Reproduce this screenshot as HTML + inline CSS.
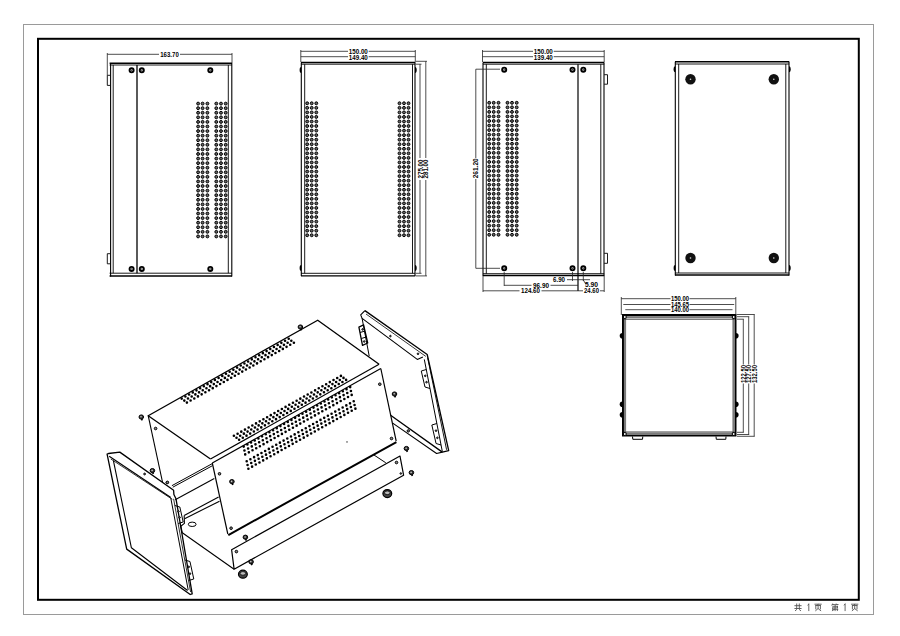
<!DOCTYPE html>
<html><head><meta charset="utf-8"><style>
html,body{margin:0;padding:0;background:#fff;}
svg{display:block;font-family:"Liberation Sans",sans-serif;}
</style></head><body>
<svg width="900" height="636" viewBox="0 0 900 636">
<rect width="900" height="636" fill="#fff"/>
<rect x="23.5" y="24.5" width="850" height="590" fill="none" stroke="#9a9a9a" stroke-width="1"/>
<rect x="38" y="38.8" width="820.8" height="561" fill="none" stroke="#000" stroke-width="2"/>
<line x1="109.60" y1="63.30" x2="232.00" y2="63.30" stroke="#000" stroke-width="1.4" />
<line x1="109.60" y1="65.00" x2="232.00" y2="65.00" stroke="#000" stroke-width="0.9" />
<line x1="109.60" y1="273.20" x2="232.00" y2="273.20" stroke="#000" stroke-width="0.9" />
<line x1="109.60" y1="276.00" x2="232.00" y2="276.00" stroke="#000" stroke-width="1.4" />
<line x1="110.60" y1="63.00" x2="110.60" y2="276.50" stroke="#000" stroke-width="1.1" />
<line x1="113.20" y1="65.00" x2="113.20" y2="273.20" stroke="#000" stroke-width="0.9" />
<line x1="228.30" y1="65.00" x2="228.30" y2="273.20" stroke="#000" stroke-width="0.9" />
<line x1="231.80" y1="63.00" x2="231.80" y2="276.50" stroke="#000" stroke-width="1.1" />
<line x1="137.00" y1="65.00" x2="137.00" y2="273.20" stroke="#000" stroke-width="1.3" />
<circle cx="131.60" cy="70.30" r="2.05" fill="#ddd" stroke="#000" stroke-width="1.9"/>
<circle cx="131.60" cy="70.30" r="0.60" fill="#333" stroke="none" stroke-width="0"/>
<circle cx="141.80" cy="70.30" r="2.05" fill="#ddd" stroke="#000" stroke-width="1.9"/>
<circle cx="141.80" cy="70.30" r="0.60" fill="#333" stroke="none" stroke-width="0"/>
<circle cx="210.30" cy="70.30" r="2.05" fill="#ddd" stroke="#000" stroke-width="1.9"/>
<circle cx="210.30" cy="70.30" r="0.60" fill="#333" stroke="none" stroke-width="0"/>
<circle cx="131.60" cy="268.90" r="2.05" fill="#ddd" stroke="#000" stroke-width="1.9"/>
<circle cx="131.60" cy="268.90" r="0.60" fill="#333" stroke="none" stroke-width="0"/>
<circle cx="141.80" cy="268.90" r="2.05" fill="#ddd" stroke="#000" stroke-width="1.9"/>
<circle cx="141.80" cy="268.90" r="0.60" fill="#333" stroke="none" stroke-width="0"/>
<circle cx="210.30" cy="268.90" r="2.05" fill="#ddd" stroke="#000" stroke-width="1.9"/>
<circle cx="210.30" cy="268.90" r="0.60" fill="#333" stroke="none" stroke-width="0"/>
<polyline points="110.00,75.30 107.30,75.30 107.30,85.40 110.00,85.40" fill="none" stroke="#000" stroke-width="0.9" stroke-linejoin="round"/>
<polyline points="110.00,253.70 107.30,253.70 107.30,263.80 110.00,263.80" fill="none" stroke="#000" stroke-width="0.9" stroke-linejoin="round"/>
<line x1="107.30" y1="54.30" x2="159.00" y2="54.30" stroke="#222" stroke-width="0.8" />
<line x1="180.00" y1="54.30" x2="232.00" y2="54.30" stroke="#222" stroke-width="0.8" />
<line x1="107.30" y1="53.00" x2="107.30" y2="75.30" stroke="#222" stroke-width="0.8" />
<line x1="232.00" y1="53.00" x2="232.00" y2="63.00" stroke="#222" stroke-width="0.8" />
<text x="169.5" y="54.6" font-size="7.4" font-weight="bold" fill="#000" text-anchor="middle" dominant-baseline="central" textLength="18.5" lengthAdjust="spacingAndGlyphs">163.70</text>
<path d="M196.65,103.60a1.45,1.45 0 1,0 2.9,0a1.45,1.45 0 1,0 -2.9,0M201.15,103.60a1.45,1.45 0 1,0 2.9,0a1.45,1.45 0 1,0 -2.9,0M205.95,103.60a1.45,1.45 0 1,0 2.9,0a1.45,1.45 0 1,0 -2.9,0M214.85,103.60a1.45,1.45 0 1,0 2.9,0a1.45,1.45 0 1,0 -2.9,0M219.55,103.60a1.45,1.45 0 1,0 2.9,0a1.45,1.45 0 1,0 -2.9,0M224.25,103.60a1.45,1.45 0 1,0 2.9,0a1.45,1.45 0 1,0 -2.9,0M196.65,108.18a1.45,1.45 0 1,0 2.9,0a1.45,1.45 0 1,0 -2.9,0M201.15,108.18a1.45,1.45 0 1,0 2.9,0a1.45,1.45 0 1,0 -2.9,0M205.95,108.18a1.45,1.45 0 1,0 2.9,0a1.45,1.45 0 1,0 -2.9,0M214.85,108.18a1.45,1.45 0 1,0 2.9,0a1.45,1.45 0 1,0 -2.9,0M219.55,108.18a1.45,1.45 0 1,0 2.9,0a1.45,1.45 0 1,0 -2.9,0M224.25,108.18a1.45,1.45 0 1,0 2.9,0a1.45,1.45 0 1,0 -2.9,0M196.65,112.76a1.45,1.45 0 1,0 2.9,0a1.45,1.45 0 1,0 -2.9,0M201.15,112.76a1.45,1.45 0 1,0 2.9,0a1.45,1.45 0 1,0 -2.9,0M205.95,112.76a1.45,1.45 0 1,0 2.9,0a1.45,1.45 0 1,0 -2.9,0M214.85,112.76a1.45,1.45 0 1,0 2.9,0a1.45,1.45 0 1,0 -2.9,0M219.55,112.76a1.45,1.45 0 1,0 2.9,0a1.45,1.45 0 1,0 -2.9,0M224.25,112.76a1.45,1.45 0 1,0 2.9,0a1.45,1.45 0 1,0 -2.9,0M196.65,117.34a1.45,1.45 0 1,0 2.9,0a1.45,1.45 0 1,0 -2.9,0M201.15,117.34a1.45,1.45 0 1,0 2.9,0a1.45,1.45 0 1,0 -2.9,0M205.95,117.34a1.45,1.45 0 1,0 2.9,0a1.45,1.45 0 1,0 -2.9,0M214.85,117.34a1.45,1.45 0 1,0 2.9,0a1.45,1.45 0 1,0 -2.9,0M219.55,117.34a1.45,1.45 0 1,0 2.9,0a1.45,1.45 0 1,0 -2.9,0M224.25,117.34a1.45,1.45 0 1,0 2.9,0a1.45,1.45 0 1,0 -2.9,0M196.65,121.92a1.45,1.45 0 1,0 2.9,0a1.45,1.45 0 1,0 -2.9,0M201.15,121.92a1.45,1.45 0 1,0 2.9,0a1.45,1.45 0 1,0 -2.9,0M205.95,121.92a1.45,1.45 0 1,0 2.9,0a1.45,1.45 0 1,0 -2.9,0M214.85,121.92a1.45,1.45 0 1,0 2.9,0a1.45,1.45 0 1,0 -2.9,0M219.55,121.92a1.45,1.45 0 1,0 2.9,0a1.45,1.45 0 1,0 -2.9,0M224.25,121.92a1.45,1.45 0 1,0 2.9,0a1.45,1.45 0 1,0 -2.9,0M196.65,126.50a1.45,1.45 0 1,0 2.9,0a1.45,1.45 0 1,0 -2.9,0M201.15,126.50a1.45,1.45 0 1,0 2.9,0a1.45,1.45 0 1,0 -2.9,0M205.95,126.50a1.45,1.45 0 1,0 2.9,0a1.45,1.45 0 1,0 -2.9,0M214.85,126.50a1.45,1.45 0 1,0 2.9,0a1.45,1.45 0 1,0 -2.9,0M219.55,126.50a1.45,1.45 0 1,0 2.9,0a1.45,1.45 0 1,0 -2.9,0M224.25,126.50a1.45,1.45 0 1,0 2.9,0a1.45,1.45 0 1,0 -2.9,0M196.65,131.08a1.45,1.45 0 1,0 2.9,0a1.45,1.45 0 1,0 -2.9,0M201.15,131.08a1.45,1.45 0 1,0 2.9,0a1.45,1.45 0 1,0 -2.9,0M205.95,131.08a1.45,1.45 0 1,0 2.9,0a1.45,1.45 0 1,0 -2.9,0M214.85,131.08a1.45,1.45 0 1,0 2.9,0a1.45,1.45 0 1,0 -2.9,0M219.55,131.08a1.45,1.45 0 1,0 2.9,0a1.45,1.45 0 1,0 -2.9,0M224.25,131.08a1.45,1.45 0 1,0 2.9,0a1.45,1.45 0 1,0 -2.9,0M196.65,135.66a1.45,1.45 0 1,0 2.9,0a1.45,1.45 0 1,0 -2.9,0M201.15,135.66a1.45,1.45 0 1,0 2.9,0a1.45,1.45 0 1,0 -2.9,0M205.95,135.66a1.45,1.45 0 1,0 2.9,0a1.45,1.45 0 1,0 -2.9,0M214.85,135.66a1.45,1.45 0 1,0 2.9,0a1.45,1.45 0 1,0 -2.9,0M219.55,135.66a1.45,1.45 0 1,0 2.9,0a1.45,1.45 0 1,0 -2.9,0M224.25,135.66a1.45,1.45 0 1,0 2.9,0a1.45,1.45 0 1,0 -2.9,0M196.65,140.24a1.45,1.45 0 1,0 2.9,0a1.45,1.45 0 1,0 -2.9,0M201.15,140.24a1.45,1.45 0 1,0 2.9,0a1.45,1.45 0 1,0 -2.9,0M205.95,140.24a1.45,1.45 0 1,0 2.9,0a1.45,1.45 0 1,0 -2.9,0M214.85,140.24a1.45,1.45 0 1,0 2.9,0a1.45,1.45 0 1,0 -2.9,0M219.55,140.24a1.45,1.45 0 1,0 2.9,0a1.45,1.45 0 1,0 -2.9,0M224.25,140.24a1.45,1.45 0 1,0 2.9,0a1.45,1.45 0 1,0 -2.9,0M196.65,144.82a1.45,1.45 0 1,0 2.9,0a1.45,1.45 0 1,0 -2.9,0M201.15,144.82a1.45,1.45 0 1,0 2.9,0a1.45,1.45 0 1,0 -2.9,0M205.95,144.82a1.45,1.45 0 1,0 2.9,0a1.45,1.45 0 1,0 -2.9,0M214.85,144.82a1.45,1.45 0 1,0 2.9,0a1.45,1.45 0 1,0 -2.9,0M219.55,144.82a1.45,1.45 0 1,0 2.9,0a1.45,1.45 0 1,0 -2.9,0M224.25,144.82a1.45,1.45 0 1,0 2.9,0a1.45,1.45 0 1,0 -2.9,0M196.65,149.40a1.45,1.45 0 1,0 2.9,0a1.45,1.45 0 1,0 -2.9,0M201.15,149.40a1.45,1.45 0 1,0 2.9,0a1.45,1.45 0 1,0 -2.9,0M205.95,149.40a1.45,1.45 0 1,0 2.9,0a1.45,1.45 0 1,0 -2.9,0M214.85,149.40a1.45,1.45 0 1,0 2.9,0a1.45,1.45 0 1,0 -2.9,0M219.55,149.40a1.45,1.45 0 1,0 2.9,0a1.45,1.45 0 1,0 -2.9,0M224.25,149.40a1.45,1.45 0 1,0 2.9,0a1.45,1.45 0 1,0 -2.9,0M196.65,153.98a1.45,1.45 0 1,0 2.9,0a1.45,1.45 0 1,0 -2.9,0M201.15,153.98a1.45,1.45 0 1,0 2.9,0a1.45,1.45 0 1,0 -2.9,0M205.95,153.98a1.45,1.45 0 1,0 2.9,0a1.45,1.45 0 1,0 -2.9,0M214.85,153.98a1.45,1.45 0 1,0 2.9,0a1.45,1.45 0 1,0 -2.9,0M219.55,153.98a1.45,1.45 0 1,0 2.9,0a1.45,1.45 0 1,0 -2.9,0M224.25,153.98a1.45,1.45 0 1,0 2.9,0a1.45,1.45 0 1,0 -2.9,0M196.65,158.56a1.45,1.45 0 1,0 2.9,0a1.45,1.45 0 1,0 -2.9,0M201.15,158.56a1.45,1.45 0 1,0 2.9,0a1.45,1.45 0 1,0 -2.9,0M205.95,158.56a1.45,1.45 0 1,0 2.9,0a1.45,1.45 0 1,0 -2.9,0M214.85,158.56a1.45,1.45 0 1,0 2.9,0a1.45,1.45 0 1,0 -2.9,0M219.55,158.56a1.45,1.45 0 1,0 2.9,0a1.45,1.45 0 1,0 -2.9,0M224.25,158.56a1.45,1.45 0 1,0 2.9,0a1.45,1.45 0 1,0 -2.9,0M196.65,163.14a1.45,1.45 0 1,0 2.9,0a1.45,1.45 0 1,0 -2.9,0M201.15,163.14a1.45,1.45 0 1,0 2.9,0a1.45,1.45 0 1,0 -2.9,0M205.95,163.14a1.45,1.45 0 1,0 2.9,0a1.45,1.45 0 1,0 -2.9,0M214.85,163.14a1.45,1.45 0 1,0 2.9,0a1.45,1.45 0 1,0 -2.9,0M219.55,163.14a1.45,1.45 0 1,0 2.9,0a1.45,1.45 0 1,0 -2.9,0M224.25,163.14a1.45,1.45 0 1,0 2.9,0a1.45,1.45 0 1,0 -2.9,0M196.65,167.72a1.45,1.45 0 1,0 2.9,0a1.45,1.45 0 1,0 -2.9,0M201.15,167.72a1.45,1.45 0 1,0 2.9,0a1.45,1.45 0 1,0 -2.9,0M205.95,167.72a1.45,1.45 0 1,0 2.9,0a1.45,1.45 0 1,0 -2.9,0M214.85,167.72a1.45,1.45 0 1,0 2.9,0a1.45,1.45 0 1,0 -2.9,0M219.55,167.72a1.45,1.45 0 1,0 2.9,0a1.45,1.45 0 1,0 -2.9,0M224.25,167.72a1.45,1.45 0 1,0 2.9,0a1.45,1.45 0 1,0 -2.9,0M196.65,172.30a1.45,1.45 0 1,0 2.9,0a1.45,1.45 0 1,0 -2.9,0M201.15,172.30a1.45,1.45 0 1,0 2.9,0a1.45,1.45 0 1,0 -2.9,0M205.95,172.30a1.45,1.45 0 1,0 2.9,0a1.45,1.45 0 1,0 -2.9,0M214.85,172.30a1.45,1.45 0 1,0 2.9,0a1.45,1.45 0 1,0 -2.9,0M219.55,172.30a1.45,1.45 0 1,0 2.9,0a1.45,1.45 0 1,0 -2.9,0M224.25,172.30a1.45,1.45 0 1,0 2.9,0a1.45,1.45 0 1,0 -2.9,0M196.65,176.88a1.45,1.45 0 1,0 2.9,0a1.45,1.45 0 1,0 -2.9,0M201.15,176.88a1.45,1.45 0 1,0 2.9,0a1.45,1.45 0 1,0 -2.9,0M205.95,176.88a1.45,1.45 0 1,0 2.9,0a1.45,1.45 0 1,0 -2.9,0M214.85,176.88a1.45,1.45 0 1,0 2.9,0a1.45,1.45 0 1,0 -2.9,0M219.55,176.88a1.45,1.45 0 1,0 2.9,0a1.45,1.45 0 1,0 -2.9,0M224.25,176.88a1.45,1.45 0 1,0 2.9,0a1.45,1.45 0 1,0 -2.9,0M196.65,181.46a1.45,1.45 0 1,0 2.9,0a1.45,1.45 0 1,0 -2.9,0M201.15,181.46a1.45,1.45 0 1,0 2.9,0a1.45,1.45 0 1,0 -2.9,0M205.95,181.46a1.45,1.45 0 1,0 2.9,0a1.45,1.45 0 1,0 -2.9,0M214.85,181.46a1.45,1.45 0 1,0 2.9,0a1.45,1.45 0 1,0 -2.9,0M219.55,181.46a1.45,1.45 0 1,0 2.9,0a1.45,1.45 0 1,0 -2.9,0M224.25,181.46a1.45,1.45 0 1,0 2.9,0a1.45,1.45 0 1,0 -2.9,0M196.65,186.04a1.45,1.45 0 1,0 2.9,0a1.45,1.45 0 1,0 -2.9,0M201.15,186.04a1.45,1.45 0 1,0 2.9,0a1.45,1.45 0 1,0 -2.9,0M205.95,186.04a1.45,1.45 0 1,0 2.9,0a1.45,1.45 0 1,0 -2.9,0M214.85,186.04a1.45,1.45 0 1,0 2.9,0a1.45,1.45 0 1,0 -2.9,0M219.55,186.04a1.45,1.45 0 1,0 2.9,0a1.45,1.45 0 1,0 -2.9,0M224.25,186.04a1.45,1.45 0 1,0 2.9,0a1.45,1.45 0 1,0 -2.9,0M196.65,190.62a1.45,1.45 0 1,0 2.9,0a1.45,1.45 0 1,0 -2.9,0M201.15,190.62a1.45,1.45 0 1,0 2.9,0a1.45,1.45 0 1,0 -2.9,0M205.95,190.62a1.45,1.45 0 1,0 2.9,0a1.45,1.45 0 1,0 -2.9,0M214.85,190.62a1.45,1.45 0 1,0 2.9,0a1.45,1.45 0 1,0 -2.9,0M219.55,190.62a1.45,1.45 0 1,0 2.9,0a1.45,1.45 0 1,0 -2.9,0M224.25,190.62a1.45,1.45 0 1,0 2.9,0a1.45,1.45 0 1,0 -2.9,0M196.65,195.20a1.45,1.45 0 1,0 2.9,0a1.45,1.45 0 1,0 -2.9,0M201.15,195.20a1.45,1.45 0 1,0 2.9,0a1.45,1.45 0 1,0 -2.9,0M205.95,195.20a1.45,1.45 0 1,0 2.9,0a1.45,1.45 0 1,0 -2.9,0M214.85,195.20a1.45,1.45 0 1,0 2.9,0a1.45,1.45 0 1,0 -2.9,0M219.55,195.20a1.45,1.45 0 1,0 2.9,0a1.45,1.45 0 1,0 -2.9,0M224.25,195.20a1.45,1.45 0 1,0 2.9,0a1.45,1.45 0 1,0 -2.9,0M196.65,199.78a1.45,1.45 0 1,0 2.9,0a1.45,1.45 0 1,0 -2.9,0M201.15,199.78a1.45,1.45 0 1,0 2.9,0a1.45,1.45 0 1,0 -2.9,0M205.95,199.78a1.45,1.45 0 1,0 2.9,0a1.45,1.45 0 1,0 -2.9,0M214.85,199.78a1.45,1.45 0 1,0 2.9,0a1.45,1.45 0 1,0 -2.9,0M219.55,199.78a1.45,1.45 0 1,0 2.9,0a1.45,1.45 0 1,0 -2.9,0M224.25,199.78a1.45,1.45 0 1,0 2.9,0a1.45,1.45 0 1,0 -2.9,0M196.65,204.36a1.45,1.45 0 1,0 2.9,0a1.45,1.45 0 1,0 -2.9,0M201.15,204.36a1.45,1.45 0 1,0 2.9,0a1.45,1.45 0 1,0 -2.9,0M205.95,204.36a1.45,1.45 0 1,0 2.9,0a1.45,1.45 0 1,0 -2.9,0M214.85,204.36a1.45,1.45 0 1,0 2.9,0a1.45,1.45 0 1,0 -2.9,0M219.55,204.36a1.45,1.45 0 1,0 2.9,0a1.45,1.45 0 1,0 -2.9,0M224.25,204.36a1.45,1.45 0 1,0 2.9,0a1.45,1.45 0 1,0 -2.9,0M196.65,208.94a1.45,1.45 0 1,0 2.9,0a1.45,1.45 0 1,0 -2.9,0M201.15,208.94a1.45,1.45 0 1,0 2.9,0a1.45,1.45 0 1,0 -2.9,0M205.95,208.94a1.45,1.45 0 1,0 2.9,0a1.45,1.45 0 1,0 -2.9,0M214.85,208.94a1.45,1.45 0 1,0 2.9,0a1.45,1.45 0 1,0 -2.9,0M219.55,208.94a1.45,1.45 0 1,0 2.9,0a1.45,1.45 0 1,0 -2.9,0M224.25,208.94a1.45,1.45 0 1,0 2.9,0a1.45,1.45 0 1,0 -2.9,0M196.65,213.52a1.45,1.45 0 1,0 2.9,0a1.45,1.45 0 1,0 -2.9,0M201.15,213.52a1.45,1.45 0 1,0 2.9,0a1.45,1.45 0 1,0 -2.9,0M205.95,213.52a1.45,1.45 0 1,0 2.9,0a1.45,1.45 0 1,0 -2.9,0M214.85,213.52a1.45,1.45 0 1,0 2.9,0a1.45,1.45 0 1,0 -2.9,0M219.55,213.52a1.45,1.45 0 1,0 2.9,0a1.45,1.45 0 1,0 -2.9,0M224.25,213.52a1.45,1.45 0 1,0 2.9,0a1.45,1.45 0 1,0 -2.9,0M196.65,218.10a1.45,1.45 0 1,0 2.9,0a1.45,1.45 0 1,0 -2.9,0M201.15,218.10a1.45,1.45 0 1,0 2.9,0a1.45,1.45 0 1,0 -2.9,0M205.95,218.10a1.45,1.45 0 1,0 2.9,0a1.45,1.45 0 1,0 -2.9,0M214.85,218.10a1.45,1.45 0 1,0 2.9,0a1.45,1.45 0 1,0 -2.9,0M219.55,218.10a1.45,1.45 0 1,0 2.9,0a1.45,1.45 0 1,0 -2.9,0M224.25,218.10a1.45,1.45 0 1,0 2.9,0a1.45,1.45 0 1,0 -2.9,0M196.65,222.68a1.45,1.45 0 1,0 2.9,0a1.45,1.45 0 1,0 -2.9,0M201.15,222.68a1.45,1.45 0 1,0 2.9,0a1.45,1.45 0 1,0 -2.9,0M205.95,222.68a1.45,1.45 0 1,0 2.9,0a1.45,1.45 0 1,0 -2.9,0M214.85,222.68a1.45,1.45 0 1,0 2.9,0a1.45,1.45 0 1,0 -2.9,0M219.55,222.68a1.45,1.45 0 1,0 2.9,0a1.45,1.45 0 1,0 -2.9,0M224.25,222.68a1.45,1.45 0 1,0 2.9,0a1.45,1.45 0 1,0 -2.9,0M196.65,227.26a1.45,1.45 0 1,0 2.9,0a1.45,1.45 0 1,0 -2.9,0M201.15,227.26a1.45,1.45 0 1,0 2.9,0a1.45,1.45 0 1,0 -2.9,0M205.95,227.26a1.45,1.45 0 1,0 2.9,0a1.45,1.45 0 1,0 -2.9,0M214.85,227.26a1.45,1.45 0 1,0 2.9,0a1.45,1.45 0 1,0 -2.9,0M219.55,227.26a1.45,1.45 0 1,0 2.9,0a1.45,1.45 0 1,0 -2.9,0M224.25,227.26a1.45,1.45 0 1,0 2.9,0a1.45,1.45 0 1,0 -2.9,0M196.65,231.84a1.45,1.45 0 1,0 2.9,0a1.45,1.45 0 1,0 -2.9,0M201.15,231.84a1.45,1.45 0 1,0 2.9,0a1.45,1.45 0 1,0 -2.9,0M205.95,231.84a1.45,1.45 0 1,0 2.9,0a1.45,1.45 0 1,0 -2.9,0M214.85,231.84a1.45,1.45 0 1,0 2.9,0a1.45,1.45 0 1,0 -2.9,0M219.55,231.84a1.45,1.45 0 1,0 2.9,0a1.45,1.45 0 1,0 -2.9,0M224.25,231.84a1.45,1.45 0 1,0 2.9,0a1.45,1.45 0 1,0 -2.9,0M196.65,236.42a1.45,1.45 0 1,0 2.9,0a1.45,1.45 0 1,0 -2.9,0M201.15,236.42a1.45,1.45 0 1,0 2.9,0a1.45,1.45 0 1,0 -2.9,0M205.95,236.42a1.45,1.45 0 1,0 2.9,0a1.45,1.45 0 1,0 -2.9,0M214.85,236.42a1.45,1.45 0 1,0 2.9,0a1.45,1.45 0 1,0 -2.9,0M219.55,236.42a1.45,1.45 0 1,0 2.9,0a1.45,1.45 0 1,0 -2.9,0M224.25,236.42a1.45,1.45 0 1,0 2.9,0a1.45,1.45 0 1,0 -2.9,0" fill="#666" stroke="#000" stroke-width="1.0"/>
<line x1="301.00" y1="62.50" x2="415.30" y2="62.50" stroke="#000" stroke-width="1.4" />
<line x1="301.00" y1="64.20" x2="415.30" y2="64.20" stroke="#000" stroke-width="0.9" />
<line x1="301.00" y1="273.30" x2="415.30" y2="273.30" stroke="#000" stroke-width="0.9" />
<line x1="301.00" y1="275.90" x2="415.30" y2="275.90" stroke="#000" stroke-width="1.4" />
<line x1="301.30" y1="62.50" x2="301.30" y2="276.00" stroke="#000" stroke-width="1.1" />
<line x1="304.70" y1="64.20" x2="304.70" y2="273.30" stroke="#000" stroke-width="0.9" />
<line x1="412.50" y1="64.20" x2="412.50" y2="273.30" stroke="#000" stroke-width="0.9" />
<line x1="415.00" y1="62.50" x2="415.00" y2="276.00" stroke="#000" stroke-width="1.1" />
<path d="M301.3,67 A1.7,3 0 0,0 301.3,73Z" fill="#000"/>
<path d="M415,67 A1.7,3 0 0,1 415,73Z" fill="#000"/>
<path d="M301.3,265 A1.7,3 0 0,0 301.3,271Z" fill="#000"/>
<path d="M415,265 A1.7,3 0 0,1 415,271Z" fill="#000"/>
<line x1="300.80" y1="51.30" x2="348.00" y2="51.30" stroke="#222" stroke-width="0.8" />
<line x1="368.70" y1="51.30" x2="415.30" y2="51.30" stroke="#222" stroke-width="0.8" />
<line x1="300.80" y1="56.70" x2="348.00" y2="56.70" stroke="#222" stroke-width="0.8" />
<line x1="368.70" y1="56.70" x2="415.30" y2="56.70" stroke="#222" stroke-width="0.8" />
<line x1="300.80" y1="50.00" x2="300.80" y2="62.00" stroke="#222" stroke-width="0.8" />
<line x1="415.30" y1="50.00" x2="415.30" y2="62.00" stroke="#222" stroke-width="0.8" />
<text x="358.3" y="51.3" font-size="7.4" font-weight="bold" fill="#000" text-anchor="middle" dominant-baseline="central" textLength="19" lengthAdjust="spacingAndGlyphs">150.00</text>
<text x="358.3" y="57.2" font-size="7.4" font-weight="bold" fill="#000" text-anchor="middle" dominant-baseline="central" textLength="19" lengthAdjust="spacingAndGlyphs">149.40</text>
<line x1="416.00" y1="61.30" x2="427.00" y2="61.30" stroke="#222" stroke-width="0.8" />
<line x1="416.00" y1="64.20" x2="421.50" y2="64.20" stroke="#222" stroke-width="0.8" />
<line x1="416.00" y1="273.30" x2="421.50" y2="273.30" stroke="#222" stroke-width="0.8" />
<line x1="416.00" y1="275.90" x2="427.00" y2="275.90" stroke="#222" stroke-width="0.8" />
<line x1="420.00" y1="64.20" x2="420.00" y2="158.00" stroke="#222" stroke-width="0.8" />
<line x1="420.00" y1="180.00" x2="420.00" y2="273.30" stroke="#222" stroke-width="0.8" />
<line x1="425.80" y1="61.30" x2="425.80" y2="158.00" stroke="#222" stroke-width="0.8" />
<line x1="425.80" y1="180.00" x2="425.80" y2="275.90" stroke="#222" stroke-width="0.8" />
<text x="420.5" y="169" font-size="7.0" font-weight="bold" fill="#000" text-anchor="middle" dominant-baseline="central" textLength="19" lengthAdjust="spacingAndGlyphs" transform="rotate(-90 420.5 169)">275.00</text>
<text x="425.8" y="169" font-size="7.0" font-weight="bold" fill="#000" text-anchor="middle" dominant-baseline="central" textLength="19" lengthAdjust="spacingAndGlyphs" transform="rotate(-90 425.8 169)">281.00</text>
<path d="M305.75,103.30a1.45,1.45 0 1,0 2.9,0a1.45,1.45 0 1,0 -2.9,0M310.25,103.30a1.45,1.45 0 1,0 2.9,0a1.45,1.45 0 1,0 -2.9,0M314.85,103.30a1.45,1.45 0 1,0 2.9,0a1.45,1.45 0 1,0 -2.9,0M398.05,103.30a1.45,1.45 0 1,0 2.9,0a1.45,1.45 0 1,0 -2.9,0M402.55,103.30a1.45,1.45 0 1,0 2.9,0a1.45,1.45 0 1,0 -2.9,0M407.05,103.30a1.45,1.45 0 1,0 2.9,0a1.45,1.45 0 1,0 -2.9,0M305.75,107.85a1.45,1.45 0 1,0 2.9,0a1.45,1.45 0 1,0 -2.9,0M310.25,107.85a1.45,1.45 0 1,0 2.9,0a1.45,1.45 0 1,0 -2.9,0M314.85,107.85a1.45,1.45 0 1,0 2.9,0a1.45,1.45 0 1,0 -2.9,0M398.05,107.85a1.45,1.45 0 1,0 2.9,0a1.45,1.45 0 1,0 -2.9,0M402.55,107.85a1.45,1.45 0 1,0 2.9,0a1.45,1.45 0 1,0 -2.9,0M407.05,107.85a1.45,1.45 0 1,0 2.9,0a1.45,1.45 0 1,0 -2.9,0M305.75,112.40a1.45,1.45 0 1,0 2.9,0a1.45,1.45 0 1,0 -2.9,0M310.25,112.40a1.45,1.45 0 1,0 2.9,0a1.45,1.45 0 1,0 -2.9,0M314.85,112.40a1.45,1.45 0 1,0 2.9,0a1.45,1.45 0 1,0 -2.9,0M398.05,112.40a1.45,1.45 0 1,0 2.9,0a1.45,1.45 0 1,0 -2.9,0M402.55,112.40a1.45,1.45 0 1,0 2.9,0a1.45,1.45 0 1,0 -2.9,0M407.05,112.40a1.45,1.45 0 1,0 2.9,0a1.45,1.45 0 1,0 -2.9,0M305.75,116.95a1.45,1.45 0 1,0 2.9,0a1.45,1.45 0 1,0 -2.9,0M310.25,116.95a1.45,1.45 0 1,0 2.9,0a1.45,1.45 0 1,0 -2.9,0M314.85,116.95a1.45,1.45 0 1,0 2.9,0a1.45,1.45 0 1,0 -2.9,0M398.05,116.95a1.45,1.45 0 1,0 2.9,0a1.45,1.45 0 1,0 -2.9,0M402.55,116.95a1.45,1.45 0 1,0 2.9,0a1.45,1.45 0 1,0 -2.9,0M407.05,116.95a1.45,1.45 0 1,0 2.9,0a1.45,1.45 0 1,0 -2.9,0M305.75,121.50a1.45,1.45 0 1,0 2.9,0a1.45,1.45 0 1,0 -2.9,0M310.25,121.50a1.45,1.45 0 1,0 2.9,0a1.45,1.45 0 1,0 -2.9,0M314.85,121.50a1.45,1.45 0 1,0 2.9,0a1.45,1.45 0 1,0 -2.9,0M398.05,121.50a1.45,1.45 0 1,0 2.9,0a1.45,1.45 0 1,0 -2.9,0M402.55,121.50a1.45,1.45 0 1,0 2.9,0a1.45,1.45 0 1,0 -2.9,0M407.05,121.50a1.45,1.45 0 1,0 2.9,0a1.45,1.45 0 1,0 -2.9,0M305.75,126.05a1.45,1.45 0 1,0 2.9,0a1.45,1.45 0 1,0 -2.9,0M310.25,126.05a1.45,1.45 0 1,0 2.9,0a1.45,1.45 0 1,0 -2.9,0M314.85,126.05a1.45,1.45 0 1,0 2.9,0a1.45,1.45 0 1,0 -2.9,0M398.05,126.05a1.45,1.45 0 1,0 2.9,0a1.45,1.45 0 1,0 -2.9,0M402.55,126.05a1.45,1.45 0 1,0 2.9,0a1.45,1.45 0 1,0 -2.9,0M407.05,126.05a1.45,1.45 0 1,0 2.9,0a1.45,1.45 0 1,0 -2.9,0M305.75,130.60a1.45,1.45 0 1,0 2.9,0a1.45,1.45 0 1,0 -2.9,0M310.25,130.60a1.45,1.45 0 1,0 2.9,0a1.45,1.45 0 1,0 -2.9,0M314.85,130.60a1.45,1.45 0 1,0 2.9,0a1.45,1.45 0 1,0 -2.9,0M398.05,130.60a1.45,1.45 0 1,0 2.9,0a1.45,1.45 0 1,0 -2.9,0M402.55,130.60a1.45,1.45 0 1,0 2.9,0a1.45,1.45 0 1,0 -2.9,0M407.05,130.60a1.45,1.45 0 1,0 2.9,0a1.45,1.45 0 1,0 -2.9,0M305.75,135.15a1.45,1.45 0 1,0 2.9,0a1.45,1.45 0 1,0 -2.9,0M310.25,135.15a1.45,1.45 0 1,0 2.9,0a1.45,1.45 0 1,0 -2.9,0M314.85,135.15a1.45,1.45 0 1,0 2.9,0a1.45,1.45 0 1,0 -2.9,0M398.05,135.15a1.45,1.45 0 1,0 2.9,0a1.45,1.45 0 1,0 -2.9,0M402.55,135.15a1.45,1.45 0 1,0 2.9,0a1.45,1.45 0 1,0 -2.9,0M407.05,135.15a1.45,1.45 0 1,0 2.9,0a1.45,1.45 0 1,0 -2.9,0M305.75,139.70a1.45,1.45 0 1,0 2.9,0a1.45,1.45 0 1,0 -2.9,0M310.25,139.70a1.45,1.45 0 1,0 2.9,0a1.45,1.45 0 1,0 -2.9,0M314.85,139.70a1.45,1.45 0 1,0 2.9,0a1.45,1.45 0 1,0 -2.9,0M398.05,139.70a1.45,1.45 0 1,0 2.9,0a1.45,1.45 0 1,0 -2.9,0M402.55,139.70a1.45,1.45 0 1,0 2.9,0a1.45,1.45 0 1,0 -2.9,0M407.05,139.70a1.45,1.45 0 1,0 2.9,0a1.45,1.45 0 1,0 -2.9,0M305.75,144.25a1.45,1.45 0 1,0 2.9,0a1.45,1.45 0 1,0 -2.9,0M310.25,144.25a1.45,1.45 0 1,0 2.9,0a1.45,1.45 0 1,0 -2.9,0M314.85,144.25a1.45,1.45 0 1,0 2.9,0a1.45,1.45 0 1,0 -2.9,0M398.05,144.25a1.45,1.45 0 1,0 2.9,0a1.45,1.45 0 1,0 -2.9,0M402.55,144.25a1.45,1.45 0 1,0 2.9,0a1.45,1.45 0 1,0 -2.9,0M407.05,144.25a1.45,1.45 0 1,0 2.9,0a1.45,1.45 0 1,0 -2.9,0M305.75,148.80a1.45,1.45 0 1,0 2.9,0a1.45,1.45 0 1,0 -2.9,0M310.25,148.80a1.45,1.45 0 1,0 2.9,0a1.45,1.45 0 1,0 -2.9,0M314.85,148.80a1.45,1.45 0 1,0 2.9,0a1.45,1.45 0 1,0 -2.9,0M398.05,148.80a1.45,1.45 0 1,0 2.9,0a1.45,1.45 0 1,0 -2.9,0M402.55,148.80a1.45,1.45 0 1,0 2.9,0a1.45,1.45 0 1,0 -2.9,0M407.05,148.80a1.45,1.45 0 1,0 2.9,0a1.45,1.45 0 1,0 -2.9,0M305.75,153.35a1.45,1.45 0 1,0 2.9,0a1.45,1.45 0 1,0 -2.9,0M310.25,153.35a1.45,1.45 0 1,0 2.9,0a1.45,1.45 0 1,0 -2.9,0M314.85,153.35a1.45,1.45 0 1,0 2.9,0a1.45,1.45 0 1,0 -2.9,0M398.05,153.35a1.45,1.45 0 1,0 2.9,0a1.45,1.45 0 1,0 -2.9,0M402.55,153.35a1.45,1.45 0 1,0 2.9,0a1.45,1.45 0 1,0 -2.9,0M407.05,153.35a1.45,1.45 0 1,0 2.9,0a1.45,1.45 0 1,0 -2.9,0M305.75,157.90a1.45,1.45 0 1,0 2.9,0a1.45,1.45 0 1,0 -2.9,0M310.25,157.90a1.45,1.45 0 1,0 2.9,0a1.45,1.45 0 1,0 -2.9,0M314.85,157.90a1.45,1.45 0 1,0 2.9,0a1.45,1.45 0 1,0 -2.9,0M398.05,157.90a1.45,1.45 0 1,0 2.9,0a1.45,1.45 0 1,0 -2.9,0M402.55,157.90a1.45,1.45 0 1,0 2.9,0a1.45,1.45 0 1,0 -2.9,0M407.05,157.90a1.45,1.45 0 1,0 2.9,0a1.45,1.45 0 1,0 -2.9,0M305.75,162.45a1.45,1.45 0 1,0 2.9,0a1.45,1.45 0 1,0 -2.9,0M310.25,162.45a1.45,1.45 0 1,0 2.9,0a1.45,1.45 0 1,0 -2.9,0M314.85,162.45a1.45,1.45 0 1,0 2.9,0a1.45,1.45 0 1,0 -2.9,0M398.05,162.45a1.45,1.45 0 1,0 2.9,0a1.45,1.45 0 1,0 -2.9,0M402.55,162.45a1.45,1.45 0 1,0 2.9,0a1.45,1.45 0 1,0 -2.9,0M407.05,162.45a1.45,1.45 0 1,0 2.9,0a1.45,1.45 0 1,0 -2.9,0M305.75,167.00a1.45,1.45 0 1,0 2.9,0a1.45,1.45 0 1,0 -2.9,0M310.25,167.00a1.45,1.45 0 1,0 2.9,0a1.45,1.45 0 1,0 -2.9,0M314.85,167.00a1.45,1.45 0 1,0 2.9,0a1.45,1.45 0 1,0 -2.9,0M398.05,167.00a1.45,1.45 0 1,0 2.9,0a1.45,1.45 0 1,0 -2.9,0M402.55,167.00a1.45,1.45 0 1,0 2.9,0a1.45,1.45 0 1,0 -2.9,0M407.05,167.00a1.45,1.45 0 1,0 2.9,0a1.45,1.45 0 1,0 -2.9,0M305.75,171.55a1.45,1.45 0 1,0 2.9,0a1.45,1.45 0 1,0 -2.9,0M310.25,171.55a1.45,1.45 0 1,0 2.9,0a1.45,1.45 0 1,0 -2.9,0M314.85,171.55a1.45,1.45 0 1,0 2.9,0a1.45,1.45 0 1,0 -2.9,0M398.05,171.55a1.45,1.45 0 1,0 2.9,0a1.45,1.45 0 1,0 -2.9,0M402.55,171.55a1.45,1.45 0 1,0 2.9,0a1.45,1.45 0 1,0 -2.9,0M407.05,171.55a1.45,1.45 0 1,0 2.9,0a1.45,1.45 0 1,0 -2.9,0M305.75,176.10a1.45,1.45 0 1,0 2.9,0a1.45,1.45 0 1,0 -2.9,0M310.25,176.10a1.45,1.45 0 1,0 2.9,0a1.45,1.45 0 1,0 -2.9,0M314.85,176.10a1.45,1.45 0 1,0 2.9,0a1.45,1.45 0 1,0 -2.9,0M398.05,176.10a1.45,1.45 0 1,0 2.9,0a1.45,1.45 0 1,0 -2.9,0M402.55,176.10a1.45,1.45 0 1,0 2.9,0a1.45,1.45 0 1,0 -2.9,0M407.05,176.10a1.45,1.45 0 1,0 2.9,0a1.45,1.45 0 1,0 -2.9,0M305.75,180.65a1.45,1.45 0 1,0 2.9,0a1.45,1.45 0 1,0 -2.9,0M310.25,180.65a1.45,1.45 0 1,0 2.9,0a1.45,1.45 0 1,0 -2.9,0M314.85,180.65a1.45,1.45 0 1,0 2.9,0a1.45,1.45 0 1,0 -2.9,0M398.05,180.65a1.45,1.45 0 1,0 2.9,0a1.45,1.45 0 1,0 -2.9,0M402.55,180.65a1.45,1.45 0 1,0 2.9,0a1.45,1.45 0 1,0 -2.9,0M407.05,180.65a1.45,1.45 0 1,0 2.9,0a1.45,1.45 0 1,0 -2.9,0M305.75,185.20a1.45,1.45 0 1,0 2.9,0a1.45,1.45 0 1,0 -2.9,0M310.25,185.20a1.45,1.45 0 1,0 2.9,0a1.45,1.45 0 1,0 -2.9,0M314.85,185.20a1.45,1.45 0 1,0 2.9,0a1.45,1.45 0 1,0 -2.9,0M398.05,185.20a1.45,1.45 0 1,0 2.9,0a1.45,1.45 0 1,0 -2.9,0M402.55,185.20a1.45,1.45 0 1,0 2.9,0a1.45,1.45 0 1,0 -2.9,0M407.05,185.20a1.45,1.45 0 1,0 2.9,0a1.45,1.45 0 1,0 -2.9,0M305.75,189.75a1.45,1.45 0 1,0 2.9,0a1.45,1.45 0 1,0 -2.9,0M310.25,189.75a1.45,1.45 0 1,0 2.9,0a1.45,1.45 0 1,0 -2.9,0M314.85,189.75a1.45,1.45 0 1,0 2.9,0a1.45,1.45 0 1,0 -2.9,0M398.05,189.75a1.45,1.45 0 1,0 2.9,0a1.45,1.45 0 1,0 -2.9,0M402.55,189.75a1.45,1.45 0 1,0 2.9,0a1.45,1.45 0 1,0 -2.9,0M407.05,189.75a1.45,1.45 0 1,0 2.9,0a1.45,1.45 0 1,0 -2.9,0M305.75,194.30a1.45,1.45 0 1,0 2.9,0a1.45,1.45 0 1,0 -2.9,0M310.25,194.30a1.45,1.45 0 1,0 2.9,0a1.45,1.45 0 1,0 -2.9,0M314.85,194.30a1.45,1.45 0 1,0 2.9,0a1.45,1.45 0 1,0 -2.9,0M398.05,194.30a1.45,1.45 0 1,0 2.9,0a1.45,1.45 0 1,0 -2.9,0M402.55,194.30a1.45,1.45 0 1,0 2.9,0a1.45,1.45 0 1,0 -2.9,0M407.05,194.30a1.45,1.45 0 1,0 2.9,0a1.45,1.45 0 1,0 -2.9,0M305.75,198.85a1.45,1.45 0 1,0 2.9,0a1.45,1.45 0 1,0 -2.9,0M310.25,198.85a1.45,1.45 0 1,0 2.9,0a1.45,1.45 0 1,0 -2.9,0M314.85,198.85a1.45,1.45 0 1,0 2.9,0a1.45,1.45 0 1,0 -2.9,0M398.05,198.85a1.45,1.45 0 1,0 2.9,0a1.45,1.45 0 1,0 -2.9,0M402.55,198.85a1.45,1.45 0 1,0 2.9,0a1.45,1.45 0 1,0 -2.9,0M407.05,198.85a1.45,1.45 0 1,0 2.9,0a1.45,1.45 0 1,0 -2.9,0M305.75,203.40a1.45,1.45 0 1,0 2.9,0a1.45,1.45 0 1,0 -2.9,0M310.25,203.40a1.45,1.45 0 1,0 2.9,0a1.45,1.45 0 1,0 -2.9,0M314.85,203.40a1.45,1.45 0 1,0 2.9,0a1.45,1.45 0 1,0 -2.9,0M398.05,203.40a1.45,1.45 0 1,0 2.9,0a1.45,1.45 0 1,0 -2.9,0M402.55,203.40a1.45,1.45 0 1,0 2.9,0a1.45,1.45 0 1,0 -2.9,0M407.05,203.40a1.45,1.45 0 1,0 2.9,0a1.45,1.45 0 1,0 -2.9,0M305.75,207.95a1.45,1.45 0 1,0 2.9,0a1.45,1.45 0 1,0 -2.9,0M310.25,207.95a1.45,1.45 0 1,0 2.9,0a1.45,1.45 0 1,0 -2.9,0M314.85,207.95a1.45,1.45 0 1,0 2.9,0a1.45,1.45 0 1,0 -2.9,0M398.05,207.95a1.45,1.45 0 1,0 2.9,0a1.45,1.45 0 1,0 -2.9,0M402.55,207.95a1.45,1.45 0 1,0 2.9,0a1.45,1.45 0 1,0 -2.9,0M407.05,207.95a1.45,1.45 0 1,0 2.9,0a1.45,1.45 0 1,0 -2.9,0M305.75,212.50a1.45,1.45 0 1,0 2.9,0a1.45,1.45 0 1,0 -2.9,0M310.25,212.50a1.45,1.45 0 1,0 2.9,0a1.45,1.45 0 1,0 -2.9,0M314.85,212.50a1.45,1.45 0 1,0 2.9,0a1.45,1.45 0 1,0 -2.9,0M398.05,212.50a1.45,1.45 0 1,0 2.9,0a1.45,1.45 0 1,0 -2.9,0M402.55,212.50a1.45,1.45 0 1,0 2.9,0a1.45,1.45 0 1,0 -2.9,0M407.05,212.50a1.45,1.45 0 1,0 2.9,0a1.45,1.45 0 1,0 -2.9,0M305.75,217.05a1.45,1.45 0 1,0 2.9,0a1.45,1.45 0 1,0 -2.9,0M310.25,217.05a1.45,1.45 0 1,0 2.9,0a1.45,1.45 0 1,0 -2.9,0M314.85,217.05a1.45,1.45 0 1,0 2.9,0a1.45,1.45 0 1,0 -2.9,0M398.05,217.05a1.45,1.45 0 1,0 2.9,0a1.45,1.45 0 1,0 -2.9,0M402.55,217.05a1.45,1.45 0 1,0 2.9,0a1.45,1.45 0 1,0 -2.9,0M407.05,217.05a1.45,1.45 0 1,0 2.9,0a1.45,1.45 0 1,0 -2.9,0M305.75,221.60a1.45,1.45 0 1,0 2.9,0a1.45,1.45 0 1,0 -2.9,0M310.25,221.60a1.45,1.45 0 1,0 2.9,0a1.45,1.45 0 1,0 -2.9,0M314.85,221.60a1.45,1.45 0 1,0 2.9,0a1.45,1.45 0 1,0 -2.9,0M398.05,221.60a1.45,1.45 0 1,0 2.9,0a1.45,1.45 0 1,0 -2.9,0M402.55,221.60a1.45,1.45 0 1,0 2.9,0a1.45,1.45 0 1,0 -2.9,0M407.05,221.60a1.45,1.45 0 1,0 2.9,0a1.45,1.45 0 1,0 -2.9,0M305.75,226.15a1.45,1.45 0 1,0 2.9,0a1.45,1.45 0 1,0 -2.9,0M310.25,226.15a1.45,1.45 0 1,0 2.9,0a1.45,1.45 0 1,0 -2.9,0M314.85,226.15a1.45,1.45 0 1,0 2.9,0a1.45,1.45 0 1,0 -2.9,0M398.05,226.15a1.45,1.45 0 1,0 2.9,0a1.45,1.45 0 1,0 -2.9,0M402.55,226.15a1.45,1.45 0 1,0 2.9,0a1.45,1.45 0 1,0 -2.9,0M407.05,226.15a1.45,1.45 0 1,0 2.9,0a1.45,1.45 0 1,0 -2.9,0M305.75,230.70a1.45,1.45 0 1,0 2.9,0a1.45,1.45 0 1,0 -2.9,0M310.25,230.70a1.45,1.45 0 1,0 2.9,0a1.45,1.45 0 1,0 -2.9,0M314.85,230.70a1.45,1.45 0 1,0 2.9,0a1.45,1.45 0 1,0 -2.9,0M398.05,230.70a1.45,1.45 0 1,0 2.9,0a1.45,1.45 0 1,0 -2.9,0M402.55,230.70a1.45,1.45 0 1,0 2.9,0a1.45,1.45 0 1,0 -2.9,0M407.05,230.70a1.45,1.45 0 1,0 2.9,0a1.45,1.45 0 1,0 -2.9,0M305.75,235.25a1.45,1.45 0 1,0 2.9,0a1.45,1.45 0 1,0 -2.9,0M310.25,235.25a1.45,1.45 0 1,0 2.9,0a1.45,1.45 0 1,0 -2.9,0M314.85,235.25a1.45,1.45 0 1,0 2.9,0a1.45,1.45 0 1,0 -2.9,0M398.05,235.25a1.45,1.45 0 1,0 2.9,0a1.45,1.45 0 1,0 -2.9,0M402.55,235.25a1.45,1.45 0 1,0 2.9,0a1.45,1.45 0 1,0 -2.9,0M407.05,235.25a1.45,1.45 0 1,0 2.9,0a1.45,1.45 0 1,0 -2.9,0" fill="#666" stroke="#000" stroke-width="1.0"/>
<line x1="483.00" y1="62.50" x2="604.20" y2="62.50" stroke="#000" stroke-width="1.4" />
<line x1="483.00" y1="64.20" x2="604.20" y2="64.20" stroke="#000" stroke-width="0.9" />
<line x1="483.00" y1="273.70" x2="604.20" y2="273.70" stroke="#000" stroke-width="0.9" />
<line x1="483.00" y1="275.50" x2="604.20" y2="275.50" stroke="#000" stroke-width="1.4" />
<line x1="483.00" y1="62.50" x2="483.00" y2="276.00" stroke="#000" stroke-width="1.1" />
<line x1="486.30" y1="64.20" x2="486.30" y2="273.70" stroke="#000" stroke-width="0.9" />
<line x1="600.80" y1="64.20" x2="600.80" y2="273.70" stroke="#000" stroke-width="0.9" />
<line x1="604.00" y1="62.50" x2="604.00" y2="276.00" stroke="#000" stroke-width="1.1" />
<line x1="578.00" y1="64.20" x2="578.00" y2="291.00" stroke="#000" stroke-width="1.2" />
<circle cx="504.20" cy="69.70" r="2.05" fill="#ddd" stroke="#000" stroke-width="1.9"/>
<circle cx="504.20" cy="69.70" r="0.60" fill="#333" stroke="none" stroke-width="0"/>
<circle cx="572.50" cy="69.70" r="2.05" fill="#ddd" stroke="#000" stroke-width="1.9"/>
<circle cx="572.50" cy="69.70" r="0.60" fill="#333" stroke="none" stroke-width="0"/>
<circle cx="583.30" cy="69.70" r="2.05" fill="#ddd" stroke="#000" stroke-width="1.9"/>
<circle cx="583.30" cy="69.70" r="0.60" fill="#333" stroke="none" stroke-width="0"/>
<circle cx="504.20" cy="268.30" r="2.05" fill="#ddd" stroke="#000" stroke-width="1.9"/>
<circle cx="504.20" cy="268.30" r="0.60" fill="#333" stroke="none" stroke-width="0"/>
<circle cx="572.50" cy="268.30" r="2.05" fill="#ddd" stroke="#000" stroke-width="1.9"/>
<circle cx="572.50" cy="268.30" r="0.60" fill="#333" stroke="none" stroke-width="0"/>
<circle cx="583.30" cy="268.30" r="2.05" fill="#ddd" stroke="#000" stroke-width="1.9"/>
<circle cx="583.30" cy="268.30" r="0.60" fill="#333" stroke="none" stroke-width="0"/>
<polyline points="604.20,74.70 607.50,74.70 607.50,84.20 604.20,84.20" fill="none" stroke="#000" stroke-width="0.9" stroke-linejoin="round"/>
<polyline points="604.20,253.30 607.50,253.30 607.50,263.30 604.20,263.30" fill="none" stroke="#000" stroke-width="0.9" stroke-linejoin="round"/>
<line x1="482.50" y1="51.30" x2="533.00" y2="51.30" stroke="#222" stroke-width="0.8" />
<line x1="553.70" y1="51.30" x2="604.20" y2="51.30" stroke="#222" stroke-width="0.8" />
<line x1="482.50" y1="56.70" x2="533.00" y2="56.70" stroke="#222" stroke-width="0.8" />
<line x1="553.70" y1="56.70" x2="604.20" y2="56.70" stroke="#222" stroke-width="0.8" />
<line x1="482.50" y1="50.00" x2="482.50" y2="62.00" stroke="#222" stroke-width="0.8" />
<line x1="604.20" y1="50.00" x2="604.20" y2="62.00" stroke="#222" stroke-width="0.8" />
<text x="543.3" y="51.3" font-size="7.4" font-weight="bold" fill="#000" text-anchor="middle" dominant-baseline="central" textLength="19" lengthAdjust="spacingAndGlyphs">150.00</text>
<text x="543.3" y="57.2" font-size="7.4" font-weight="bold" fill="#000" text-anchor="middle" dominant-baseline="central" textLength="19" lengthAdjust="spacingAndGlyphs">139.40</text>
<line x1="475.80" y1="69.20" x2="500.00" y2="69.20" stroke="#222" stroke-width="0.8" />
<line x1="475.80" y1="268.30" x2="500.00" y2="268.30" stroke="#222" stroke-width="0.8" />
<line x1="475.80" y1="69.20" x2="475.80" y2="158.00" stroke="#222" stroke-width="0.8" />
<line x1="475.80" y1="179.00" x2="475.80" y2="268.30" stroke="#222" stroke-width="0.8" />
<text x="476" y="168.3" font-size="7.4" font-weight="bold" fill="#000" text-anchor="middle" dominant-baseline="central" textLength="20" lengthAdjust="spacingAndGlyphs" transform="rotate(-90 476 168.3)">261.20</text>
<line x1="483.00" y1="276.00" x2="483.00" y2="292.00" stroke="#222" stroke-width="0.8" />
<line x1="604.20" y1="276.00" x2="604.20" y2="292.00" stroke="#222" stroke-width="0.8" />
<line x1="504.20" y1="272.00" x2="504.20" y2="286.00" stroke="#222" stroke-width="0.8" />
<line x1="572.50" y1="272.00" x2="572.50" y2="281.00" stroke="#222" stroke-width="0.8" />
<line x1="583.30" y1="272.00" x2="583.30" y2="281.00" stroke="#222" stroke-width="0.8" />
<line x1="567.00" y1="279.70" x2="590.00" y2="279.70" stroke="#222" stroke-width="0.8" />
<text x="559" y="279.8" font-size="7.4" font-weight="bold" fill="#000" text-anchor="middle" dominant-baseline="central" textLength="12" lengthAdjust="spacingAndGlyphs">6.90</text>
<line x1="504.20" y1="285.30" x2="531.50" y2="285.30" stroke="#222" stroke-width="0.8" />
<line x1="550.50" y1="285.30" x2="578.00" y2="285.30" stroke="#222" stroke-width="0.8" />
<text x="541" y="285.2" font-size="7.4" font-weight="bold" fill="#000" text-anchor="middle" dominant-baseline="central" textLength="16" lengthAdjust="spacingAndGlyphs">96.90</text>
<line x1="483.00" y1="290.80" x2="519.50" y2="290.80" stroke="#222" stroke-width="0.8" />
<line x1="541.50" y1="290.80" x2="578.00" y2="290.80" stroke="#222" stroke-width="0.8" />
<text x="530.5" y="290.8" font-size="7.4" font-weight="bold" fill="#000" text-anchor="middle" dominant-baseline="central" textLength="19" lengthAdjust="spacingAndGlyphs">124.60</text>
<line x1="578.00" y1="290.80" x2="583.00" y2="290.80" stroke="#222" stroke-width="0.8" />
<line x1="600.00" y1="290.80" x2="604.20" y2="290.80" stroke="#222" stroke-width="0.8" />
<text x="591.5" y="290.8" font-size="7.4" font-weight="bold" fill="#000" text-anchor="middle" dominant-baseline="central" textLength="15" lengthAdjust="spacingAndGlyphs">24.60</text>
<polyline points="583.30,280.00 586.00,284.50" fill="none" stroke="#222" stroke-width="0.8" stroke-linejoin="round"/>
<text x="591.5" y="284.3" font-size="7.4" font-weight="bold" fill="#000" text-anchor="middle" dominant-baseline="central" textLength="13" lengthAdjust="spacingAndGlyphs">5.90</text>
<path d="M487.75,102.80a1.45,1.45 0 1,0 2.9,0a1.45,1.45 0 1,0 -2.9,0M492.25,102.80a1.45,1.45 0 1,0 2.9,0a1.45,1.45 0 1,0 -2.9,0M497.05,102.80a1.45,1.45 0 1,0 2.9,0a1.45,1.45 0 1,0 -2.9,0M506.05,102.80a1.45,1.45 0 1,0 2.9,0a1.45,1.45 0 1,0 -2.9,0M510.55,102.80a1.45,1.45 0 1,0 2.9,0a1.45,1.45 0 1,0 -2.9,0M515.25,102.80a1.45,1.45 0 1,0 2.9,0a1.45,1.45 0 1,0 -2.9,0M487.75,107.35a1.45,1.45 0 1,0 2.9,0a1.45,1.45 0 1,0 -2.9,0M492.25,107.35a1.45,1.45 0 1,0 2.9,0a1.45,1.45 0 1,0 -2.9,0M497.05,107.35a1.45,1.45 0 1,0 2.9,0a1.45,1.45 0 1,0 -2.9,0M506.05,107.35a1.45,1.45 0 1,0 2.9,0a1.45,1.45 0 1,0 -2.9,0M510.55,107.35a1.45,1.45 0 1,0 2.9,0a1.45,1.45 0 1,0 -2.9,0M515.25,107.35a1.45,1.45 0 1,0 2.9,0a1.45,1.45 0 1,0 -2.9,0M487.75,111.90a1.45,1.45 0 1,0 2.9,0a1.45,1.45 0 1,0 -2.9,0M492.25,111.90a1.45,1.45 0 1,0 2.9,0a1.45,1.45 0 1,0 -2.9,0M497.05,111.90a1.45,1.45 0 1,0 2.9,0a1.45,1.45 0 1,0 -2.9,0M506.05,111.90a1.45,1.45 0 1,0 2.9,0a1.45,1.45 0 1,0 -2.9,0M510.55,111.90a1.45,1.45 0 1,0 2.9,0a1.45,1.45 0 1,0 -2.9,0M515.25,111.90a1.45,1.45 0 1,0 2.9,0a1.45,1.45 0 1,0 -2.9,0M487.75,116.45a1.45,1.45 0 1,0 2.9,0a1.45,1.45 0 1,0 -2.9,0M492.25,116.45a1.45,1.45 0 1,0 2.9,0a1.45,1.45 0 1,0 -2.9,0M497.05,116.45a1.45,1.45 0 1,0 2.9,0a1.45,1.45 0 1,0 -2.9,0M506.05,116.45a1.45,1.45 0 1,0 2.9,0a1.45,1.45 0 1,0 -2.9,0M510.55,116.45a1.45,1.45 0 1,0 2.9,0a1.45,1.45 0 1,0 -2.9,0M515.25,116.45a1.45,1.45 0 1,0 2.9,0a1.45,1.45 0 1,0 -2.9,0M487.75,121.00a1.45,1.45 0 1,0 2.9,0a1.45,1.45 0 1,0 -2.9,0M492.25,121.00a1.45,1.45 0 1,0 2.9,0a1.45,1.45 0 1,0 -2.9,0M497.05,121.00a1.45,1.45 0 1,0 2.9,0a1.45,1.45 0 1,0 -2.9,0M506.05,121.00a1.45,1.45 0 1,0 2.9,0a1.45,1.45 0 1,0 -2.9,0M510.55,121.00a1.45,1.45 0 1,0 2.9,0a1.45,1.45 0 1,0 -2.9,0M515.25,121.00a1.45,1.45 0 1,0 2.9,0a1.45,1.45 0 1,0 -2.9,0M487.75,125.55a1.45,1.45 0 1,0 2.9,0a1.45,1.45 0 1,0 -2.9,0M492.25,125.55a1.45,1.45 0 1,0 2.9,0a1.45,1.45 0 1,0 -2.9,0M497.05,125.55a1.45,1.45 0 1,0 2.9,0a1.45,1.45 0 1,0 -2.9,0M506.05,125.55a1.45,1.45 0 1,0 2.9,0a1.45,1.45 0 1,0 -2.9,0M510.55,125.55a1.45,1.45 0 1,0 2.9,0a1.45,1.45 0 1,0 -2.9,0M515.25,125.55a1.45,1.45 0 1,0 2.9,0a1.45,1.45 0 1,0 -2.9,0M487.75,130.10a1.45,1.45 0 1,0 2.9,0a1.45,1.45 0 1,0 -2.9,0M492.25,130.10a1.45,1.45 0 1,0 2.9,0a1.45,1.45 0 1,0 -2.9,0M497.05,130.10a1.45,1.45 0 1,0 2.9,0a1.45,1.45 0 1,0 -2.9,0M506.05,130.10a1.45,1.45 0 1,0 2.9,0a1.45,1.45 0 1,0 -2.9,0M510.55,130.10a1.45,1.45 0 1,0 2.9,0a1.45,1.45 0 1,0 -2.9,0M515.25,130.10a1.45,1.45 0 1,0 2.9,0a1.45,1.45 0 1,0 -2.9,0M487.75,134.65a1.45,1.45 0 1,0 2.9,0a1.45,1.45 0 1,0 -2.9,0M492.25,134.65a1.45,1.45 0 1,0 2.9,0a1.45,1.45 0 1,0 -2.9,0M497.05,134.65a1.45,1.45 0 1,0 2.9,0a1.45,1.45 0 1,0 -2.9,0M506.05,134.65a1.45,1.45 0 1,0 2.9,0a1.45,1.45 0 1,0 -2.9,0M510.55,134.65a1.45,1.45 0 1,0 2.9,0a1.45,1.45 0 1,0 -2.9,0M515.25,134.65a1.45,1.45 0 1,0 2.9,0a1.45,1.45 0 1,0 -2.9,0M487.75,139.20a1.45,1.45 0 1,0 2.9,0a1.45,1.45 0 1,0 -2.9,0M492.25,139.20a1.45,1.45 0 1,0 2.9,0a1.45,1.45 0 1,0 -2.9,0M497.05,139.20a1.45,1.45 0 1,0 2.9,0a1.45,1.45 0 1,0 -2.9,0M506.05,139.20a1.45,1.45 0 1,0 2.9,0a1.45,1.45 0 1,0 -2.9,0M510.55,139.20a1.45,1.45 0 1,0 2.9,0a1.45,1.45 0 1,0 -2.9,0M515.25,139.20a1.45,1.45 0 1,0 2.9,0a1.45,1.45 0 1,0 -2.9,0M487.75,143.75a1.45,1.45 0 1,0 2.9,0a1.45,1.45 0 1,0 -2.9,0M492.25,143.75a1.45,1.45 0 1,0 2.9,0a1.45,1.45 0 1,0 -2.9,0M497.05,143.75a1.45,1.45 0 1,0 2.9,0a1.45,1.45 0 1,0 -2.9,0M506.05,143.75a1.45,1.45 0 1,0 2.9,0a1.45,1.45 0 1,0 -2.9,0M510.55,143.75a1.45,1.45 0 1,0 2.9,0a1.45,1.45 0 1,0 -2.9,0M515.25,143.75a1.45,1.45 0 1,0 2.9,0a1.45,1.45 0 1,0 -2.9,0M487.75,148.30a1.45,1.45 0 1,0 2.9,0a1.45,1.45 0 1,0 -2.9,0M492.25,148.30a1.45,1.45 0 1,0 2.9,0a1.45,1.45 0 1,0 -2.9,0M497.05,148.30a1.45,1.45 0 1,0 2.9,0a1.45,1.45 0 1,0 -2.9,0M506.05,148.30a1.45,1.45 0 1,0 2.9,0a1.45,1.45 0 1,0 -2.9,0M510.55,148.30a1.45,1.45 0 1,0 2.9,0a1.45,1.45 0 1,0 -2.9,0M515.25,148.30a1.45,1.45 0 1,0 2.9,0a1.45,1.45 0 1,0 -2.9,0M487.75,152.85a1.45,1.45 0 1,0 2.9,0a1.45,1.45 0 1,0 -2.9,0M492.25,152.85a1.45,1.45 0 1,0 2.9,0a1.45,1.45 0 1,0 -2.9,0M497.05,152.85a1.45,1.45 0 1,0 2.9,0a1.45,1.45 0 1,0 -2.9,0M506.05,152.85a1.45,1.45 0 1,0 2.9,0a1.45,1.45 0 1,0 -2.9,0M510.55,152.85a1.45,1.45 0 1,0 2.9,0a1.45,1.45 0 1,0 -2.9,0M515.25,152.85a1.45,1.45 0 1,0 2.9,0a1.45,1.45 0 1,0 -2.9,0M487.75,157.40a1.45,1.45 0 1,0 2.9,0a1.45,1.45 0 1,0 -2.9,0M492.25,157.40a1.45,1.45 0 1,0 2.9,0a1.45,1.45 0 1,0 -2.9,0M497.05,157.40a1.45,1.45 0 1,0 2.9,0a1.45,1.45 0 1,0 -2.9,0M506.05,157.40a1.45,1.45 0 1,0 2.9,0a1.45,1.45 0 1,0 -2.9,0M510.55,157.40a1.45,1.45 0 1,0 2.9,0a1.45,1.45 0 1,0 -2.9,0M515.25,157.40a1.45,1.45 0 1,0 2.9,0a1.45,1.45 0 1,0 -2.9,0M487.75,161.95a1.45,1.45 0 1,0 2.9,0a1.45,1.45 0 1,0 -2.9,0M492.25,161.95a1.45,1.45 0 1,0 2.9,0a1.45,1.45 0 1,0 -2.9,0M497.05,161.95a1.45,1.45 0 1,0 2.9,0a1.45,1.45 0 1,0 -2.9,0M506.05,161.95a1.45,1.45 0 1,0 2.9,0a1.45,1.45 0 1,0 -2.9,0M510.55,161.95a1.45,1.45 0 1,0 2.9,0a1.45,1.45 0 1,0 -2.9,0M515.25,161.95a1.45,1.45 0 1,0 2.9,0a1.45,1.45 0 1,0 -2.9,0M487.75,166.50a1.45,1.45 0 1,0 2.9,0a1.45,1.45 0 1,0 -2.9,0M492.25,166.50a1.45,1.45 0 1,0 2.9,0a1.45,1.45 0 1,0 -2.9,0M497.05,166.50a1.45,1.45 0 1,0 2.9,0a1.45,1.45 0 1,0 -2.9,0M506.05,166.50a1.45,1.45 0 1,0 2.9,0a1.45,1.45 0 1,0 -2.9,0M510.55,166.50a1.45,1.45 0 1,0 2.9,0a1.45,1.45 0 1,0 -2.9,0M515.25,166.50a1.45,1.45 0 1,0 2.9,0a1.45,1.45 0 1,0 -2.9,0M487.75,171.05a1.45,1.45 0 1,0 2.9,0a1.45,1.45 0 1,0 -2.9,0M492.25,171.05a1.45,1.45 0 1,0 2.9,0a1.45,1.45 0 1,0 -2.9,0M497.05,171.05a1.45,1.45 0 1,0 2.9,0a1.45,1.45 0 1,0 -2.9,0M506.05,171.05a1.45,1.45 0 1,0 2.9,0a1.45,1.45 0 1,0 -2.9,0M510.55,171.05a1.45,1.45 0 1,0 2.9,0a1.45,1.45 0 1,0 -2.9,0M515.25,171.05a1.45,1.45 0 1,0 2.9,0a1.45,1.45 0 1,0 -2.9,0M487.75,175.60a1.45,1.45 0 1,0 2.9,0a1.45,1.45 0 1,0 -2.9,0M492.25,175.60a1.45,1.45 0 1,0 2.9,0a1.45,1.45 0 1,0 -2.9,0M497.05,175.60a1.45,1.45 0 1,0 2.9,0a1.45,1.45 0 1,0 -2.9,0M506.05,175.60a1.45,1.45 0 1,0 2.9,0a1.45,1.45 0 1,0 -2.9,0M510.55,175.60a1.45,1.45 0 1,0 2.9,0a1.45,1.45 0 1,0 -2.9,0M515.25,175.60a1.45,1.45 0 1,0 2.9,0a1.45,1.45 0 1,0 -2.9,0M487.75,180.15a1.45,1.45 0 1,0 2.9,0a1.45,1.45 0 1,0 -2.9,0M492.25,180.15a1.45,1.45 0 1,0 2.9,0a1.45,1.45 0 1,0 -2.9,0M497.05,180.15a1.45,1.45 0 1,0 2.9,0a1.45,1.45 0 1,0 -2.9,0M506.05,180.15a1.45,1.45 0 1,0 2.9,0a1.45,1.45 0 1,0 -2.9,0M510.55,180.15a1.45,1.45 0 1,0 2.9,0a1.45,1.45 0 1,0 -2.9,0M515.25,180.15a1.45,1.45 0 1,0 2.9,0a1.45,1.45 0 1,0 -2.9,0M487.75,184.70a1.45,1.45 0 1,0 2.9,0a1.45,1.45 0 1,0 -2.9,0M492.25,184.70a1.45,1.45 0 1,0 2.9,0a1.45,1.45 0 1,0 -2.9,0M497.05,184.70a1.45,1.45 0 1,0 2.9,0a1.45,1.45 0 1,0 -2.9,0M506.05,184.70a1.45,1.45 0 1,0 2.9,0a1.45,1.45 0 1,0 -2.9,0M510.55,184.70a1.45,1.45 0 1,0 2.9,0a1.45,1.45 0 1,0 -2.9,0M515.25,184.70a1.45,1.45 0 1,0 2.9,0a1.45,1.45 0 1,0 -2.9,0M487.75,189.25a1.45,1.45 0 1,0 2.9,0a1.45,1.45 0 1,0 -2.9,0M492.25,189.25a1.45,1.45 0 1,0 2.9,0a1.45,1.45 0 1,0 -2.9,0M497.05,189.25a1.45,1.45 0 1,0 2.9,0a1.45,1.45 0 1,0 -2.9,0M506.05,189.25a1.45,1.45 0 1,0 2.9,0a1.45,1.45 0 1,0 -2.9,0M510.55,189.25a1.45,1.45 0 1,0 2.9,0a1.45,1.45 0 1,0 -2.9,0M515.25,189.25a1.45,1.45 0 1,0 2.9,0a1.45,1.45 0 1,0 -2.9,0M487.75,193.80a1.45,1.45 0 1,0 2.9,0a1.45,1.45 0 1,0 -2.9,0M492.25,193.80a1.45,1.45 0 1,0 2.9,0a1.45,1.45 0 1,0 -2.9,0M497.05,193.80a1.45,1.45 0 1,0 2.9,0a1.45,1.45 0 1,0 -2.9,0M506.05,193.80a1.45,1.45 0 1,0 2.9,0a1.45,1.45 0 1,0 -2.9,0M510.55,193.80a1.45,1.45 0 1,0 2.9,0a1.45,1.45 0 1,0 -2.9,0M515.25,193.80a1.45,1.45 0 1,0 2.9,0a1.45,1.45 0 1,0 -2.9,0M487.75,198.35a1.45,1.45 0 1,0 2.9,0a1.45,1.45 0 1,0 -2.9,0M492.25,198.35a1.45,1.45 0 1,0 2.9,0a1.45,1.45 0 1,0 -2.9,0M497.05,198.35a1.45,1.45 0 1,0 2.9,0a1.45,1.45 0 1,0 -2.9,0M506.05,198.35a1.45,1.45 0 1,0 2.9,0a1.45,1.45 0 1,0 -2.9,0M510.55,198.35a1.45,1.45 0 1,0 2.9,0a1.45,1.45 0 1,0 -2.9,0M515.25,198.35a1.45,1.45 0 1,0 2.9,0a1.45,1.45 0 1,0 -2.9,0M487.75,202.90a1.45,1.45 0 1,0 2.9,0a1.45,1.45 0 1,0 -2.9,0M492.25,202.90a1.45,1.45 0 1,0 2.9,0a1.45,1.45 0 1,0 -2.9,0M497.05,202.90a1.45,1.45 0 1,0 2.9,0a1.45,1.45 0 1,0 -2.9,0M506.05,202.90a1.45,1.45 0 1,0 2.9,0a1.45,1.45 0 1,0 -2.9,0M510.55,202.90a1.45,1.45 0 1,0 2.9,0a1.45,1.45 0 1,0 -2.9,0M515.25,202.90a1.45,1.45 0 1,0 2.9,0a1.45,1.45 0 1,0 -2.9,0M487.75,207.45a1.45,1.45 0 1,0 2.9,0a1.45,1.45 0 1,0 -2.9,0M492.25,207.45a1.45,1.45 0 1,0 2.9,0a1.45,1.45 0 1,0 -2.9,0M497.05,207.45a1.45,1.45 0 1,0 2.9,0a1.45,1.45 0 1,0 -2.9,0M506.05,207.45a1.45,1.45 0 1,0 2.9,0a1.45,1.45 0 1,0 -2.9,0M510.55,207.45a1.45,1.45 0 1,0 2.9,0a1.45,1.45 0 1,0 -2.9,0M515.25,207.45a1.45,1.45 0 1,0 2.9,0a1.45,1.45 0 1,0 -2.9,0M487.75,212.00a1.45,1.45 0 1,0 2.9,0a1.45,1.45 0 1,0 -2.9,0M492.25,212.00a1.45,1.45 0 1,0 2.9,0a1.45,1.45 0 1,0 -2.9,0M497.05,212.00a1.45,1.45 0 1,0 2.9,0a1.45,1.45 0 1,0 -2.9,0M506.05,212.00a1.45,1.45 0 1,0 2.9,0a1.45,1.45 0 1,0 -2.9,0M510.55,212.00a1.45,1.45 0 1,0 2.9,0a1.45,1.45 0 1,0 -2.9,0M515.25,212.00a1.45,1.45 0 1,0 2.9,0a1.45,1.45 0 1,0 -2.9,0M487.75,216.55a1.45,1.45 0 1,0 2.9,0a1.45,1.45 0 1,0 -2.9,0M492.25,216.55a1.45,1.45 0 1,0 2.9,0a1.45,1.45 0 1,0 -2.9,0M497.05,216.55a1.45,1.45 0 1,0 2.9,0a1.45,1.45 0 1,0 -2.9,0M506.05,216.55a1.45,1.45 0 1,0 2.9,0a1.45,1.45 0 1,0 -2.9,0M510.55,216.55a1.45,1.45 0 1,0 2.9,0a1.45,1.45 0 1,0 -2.9,0M515.25,216.55a1.45,1.45 0 1,0 2.9,0a1.45,1.45 0 1,0 -2.9,0M487.75,221.10a1.45,1.45 0 1,0 2.9,0a1.45,1.45 0 1,0 -2.9,0M492.25,221.10a1.45,1.45 0 1,0 2.9,0a1.45,1.45 0 1,0 -2.9,0M497.05,221.10a1.45,1.45 0 1,0 2.9,0a1.45,1.45 0 1,0 -2.9,0M506.05,221.10a1.45,1.45 0 1,0 2.9,0a1.45,1.45 0 1,0 -2.9,0M510.55,221.10a1.45,1.45 0 1,0 2.9,0a1.45,1.45 0 1,0 -2.9,0M515.25,221.10a1.45,1.45 0 1,0 2.9,0a1.45,1.45 0 1,0 -2.9,0M487.75,225.65a1.45,1.45 0 1,0 2.9,0a1.45,1.45 0 1,0 -2.9,0M492.25,225.65a1.45,1.45 0 1,0 2.9,0a1.45,1.45 0 1,0 -2.9,0M497.05,225.65a1.45,1.45 0 1,0 2.9,0a1.45,1.45 0 1,0 -2.9,0M506.05,225.65a1.45,1.45 0 1,0 2.9,0a1.45,1.45 0 1,0 -2.9,0M510.55,225.65a1.45,1.45 0 1,0 2.9,0a1.45,1.45 0 1,0 -2.9,0M515.25,225.65a1.45,1.45 0 1,0 2.9,0a1.45,1.45 0 1,0 -2.9,0M487.75,230.20a1.45,1.45 0 1,0 2.9,0a1.45,1.45 0 1,0 -2.9,0M492.25,230.20a1.45,1.45 0 1,0 2.9,0a1.45,1.45 0 1,0 -2.9,0M497.05,230.20a1.45,1.45 0 1,0 2.9,0a1.45,1.45 0 1,0 -2.9,0M506.05,230.20a1.45,1.45 0 1,0 2.9,0a1.45,1.45 0 1,0 -2.9,0M510.55,230.20a1.45,1.45 0 1,0 2.9,0a1.45,1.45 0 1,0 -2.9,0M515.25,230.20a1.45,1.45 0 1,0 2.9,0a1.45,1.45 0 1,0 -2.9,0M487.75,234.75a1.45,1.45 0 1,0 2.9,0a1.45,1.45 0 1,0 -2.9,0M492.25,234.75a1.45,1.45 0 1,0 2.9,0a1.45,1.45 0 1,0 -2.9,0M497.05,234.75a1.45,1.45 0 1,0 2.9,0a1.45,1.45 0 1,0 -2.9,0M506.05,234.75a1.45,1.45 0 1,0 2.9,0a1.45,1.45 0 1,0 -2.9,0M510.55,234.75a1.45,1.45 0 1,0 2.9,0a1.45,1.45 0 1,0 -2.9,0M515.25,234.75a1.45,1.45 0 1,0 2.9,0a1.45,1.45 0 1,0 -2.9,0" fill="#666" stroke="#000" stroke-width="1.0"/>
<line x1="675.00" y1="61.70" x2="789.20" y2="61.70" stroke="#000" stroke-width="1.4" />
<line x1="675.00" y1="64.00" x2="789.20" y2="64.00" stroke="#000" stroke-width="0.9" />
<line x1="675.00" y1="273.00" x2="789.20" y2="273.00" stroke="#000" stroke-width="0.9" />
<line x1="675.00" y1="275.00" x2="789.20" y2="275.00" stroke="#000" stroke-width="1.4" />
<line x1="675.30" y1="61.70" x2="675.30" y2="275.50" stroke="#000" stroke-width="1.1" />
<line x1="678.70" y1="64.00" x2="678.70" y2="273.00" stroke="#000" stroke-width="0.9" />
<line x1="785.80" y1="64.00" x2="785.80" y2="273.00" stroke="#000" stroke-width="0.9" />
<line x1="789.00" y1="61.70" x2="789.00" y2="275.50" stroke="#000" stroke-width="1.1" />
<path d="M675.3,66.2 A1.7,3 0 0,0 675.3,72.2Z" fill="#000"/>
<path d="M789,66.2 A1.7,3 0 0,1 789,72.2Z" fill="#000"/>
<path d="M675.3,265 A1.7,3 0 0,0 675.3,271Z" fill="#000"/>
<path d="M789,265 A1.7,3 0 0,1 789,271Z" fill="#000"/>
<circle cx="690.50" cy="79.20" r="5.20" fill="#111" stroke="none" stroke-width="0"/>
<circle cx="690.50" cy="79.20" r="0.80" fill="#ddd" stroke="none" stroke-width="0"/>
<circle cx="690.50" cy="258.00" r="5.20" fill="#111" stroke="none" stroke-width="0"/>
<circle cx="690.50" cy="258.00" r="0.80" fill="#ddd" stroke="none" stroke-width="0"/>
<circle cx="773.80" cy="79.20" r="5.20" fill="#111" stroke="none" stroke-width="0"/>
<circle cx="773.80" cy="79.20" r="0.80" fill="#ddd" stroke="none" stroke-width="0"/>
<circle cx="773.80" cy="258.00" r="5.20" fill="#111" stroke="none" stroke-width="0"/>
<circle cx="773.80" cy="258.00" r="0.80" fill="#ddd" stroke="none" stroke-width="0"/>
<rect x="623" y="315" width="112.5" height="120.5" fill="none" stroke="#000" stroke-width="2"/>
<rect x="625" y="317.2" width="108.5" height="116.2" fill="none" stroke="#7a7a7a" stroke-width="2.2"/>
<line x1="624.00" y1="319.30" x2="734.50" y2="319.30" stroke="#333" stroke-width="0.8" />
<line x1="624.00" y1="431.80" x2="734.50" y2="431.80" stroke="#555" stroke-width="0.8" />
<circle cx="624.80" cy="317.00" r="1.50" fill="#fff" stroke="#000" stroke-width="1.1"/>
<circle cx="733.70" cy="317.00" r="1.50" fill="#fff" stroke="#000" stroke-width="1.1"/>
<circle cx="624.80" cy="434.00" r="1.50" fill="#fff" stroke="#000" stroke-width="1.1"/>
<circle cx="733.70" cy="434.00" r="1.50" fill="#fff" stroke="#000" stroke-width="1.1"/>
<path d="M622.5,333.0 A2.8,2.8 0 0,0 622.5,338.6Z" fill="#000"/>
<path d="M735.8,333.0 A2.8,2.8 0 0,1 735.8,338.6Z" fill="#000"/>
<path d="M622.5,401.4 A2.8,2.8 0 0,0 622.5,407.0Z" fill="#000"/>
<path d="M735.8,401.4 A2.8,2.8 0 0,1 735.8,407.0Z" fill="#000"/>
<path d="M622.5,411.9 A2.8,2.8 0 0,0 622.5,417.5Z" fill="#000"/>
<path d="M735.8,411.9 A2.8,2.8 0 0,1 735.8,417.5Z" fill="#000"/>
<polyline points="632.50,436.50 632.80,439.30 642.50,439.30 642.80,436.50" fill="none" stroke="#000" stroke-width="1.0" stroke-linejoin="round"/>
<polyline points="716.00,436.50 716.30,439.30 725.80,439.30 726.00,436.50" fill="none" stroke="#000" stroke-width="1.0" stroke-linejoin="round"/>
<line x1="621.30" y1="298.70" x2="670.50" y2="298.70" stroke="#222" stroke-width="0.8" />
<line x1="689.50" y1="298.70" x2="735.80" y2="298.70" stroke="#222" stroke-width="0.8" />
<text x="680" y="298.7" font-size="7.2" font-weight="bold" fill="#000" text-anchor="middle" dominant-baseline="central" textLength="18" lengthAdjust="spacingAndGlyphs">150.00</text>
<line x1="623.30" y1="304.50" x2="670.50" y2="304.50" stroke="#222" stroke-width="0.8" />
<line x1="689.50" y1="304.50" x2="734.20" y2="304.50" stroke="#222" stroke-width="0.8" />
<text x="680" y="304.5" font-size="7.2" font-weight="bold" fill="#000" text-anchor="middle" dominant-baseline="central" textLength="18" lengthAdjust="spacingAndGlyphs">145.65</text>
<line x1="625.30" y1="309.70" x2="670.50" y2="309.70" stroke="#222" stroke-width="0.8" />
<line x1="689.50" y1="309.70" x2="732.50" y2="309.70" stroke="#222" stroke-width="0.8" />
<text x="680" y="309.7" font-size="7.2" font-weight="bold" fill="#000" text-anchor="middle" dominant-baseline="central" textLength="18" lengthAdjust="spacingAndGlyphs">140.00</text>
<line x1="621.30" y1="297.00" x2="621.30" y2="315.00" stroke="#222" stroke-width="0.8" />
<line x1="735.80" y1="297.00" x2="735.80" y2="315.00" stroke="#222" stroke-width="0.8" />
<line x1="737.00" y1="319.20" x2="743.80" y2="319.20" stroke="#222" stroke-width="0.8" />
<line x1="737.00" y1="432.30" x2="743.80" y2="432.30" stroke="#222" stroke-width="0.8" />
<line x1="743.30" y1="319.20" x2="743.30" y2="364.50" stroke="#222" stroke-width="0.8" />
<line x1="743.30" y1="383.50" x2="743.30" y2="432.30" stroke="#222" stroke-width="0.8" />
<line x1="737.00" y1="316.70" x2="749.20" y2="316.70" stroke="#222" stroke-width="0.8" />
<line x1="737.00" y1="434.50" x2="749.20" y2="434.50" stroke="#222" stroke-width="0.8" />
<line x1="748.70" y1="316.70" x2="748.70" y2="364.50" stroke="#222" stroke-width="0.8" />
<line x1="748.70" y1="383.50" x2="748.70" y2="434.50" stroke="#222" stroke-width="0.8" />
<line x1="737.00" y1="314.50" x2="754.70" y2="314.50" stroke="#222" stroke-width="0.8" />
<line x1="737.00" y1="436.30" x2="754.70" y2="436.30" stroke="#222" stroke-width="0.8" />
<line x1="754.20" y1="314.50" x2="754.20" y2="364.50" stroke="#222" stroke-width="0.8" />
<line x1="754.20" y1="383.50" x2="754.20" y2="436.30" stroke="#222" stroke-width="0.8" />
<text x="743.5" y="374" font-size="7.0" font-weight="bold" fill="#000" text-anchor="middle" dominant-baseline="central" textLength="18" lengthAdjust="spacingAndGlyphs" transform="rotate(-90 743.5 374)">122.50</text>
<text x="748.7" y="374" font-size="7.0" font-weight="bold" fill="#000" text-anchor="middle" dominant-baseline="central" textLength="18" lengthAdjust="spacingAndGlyphs" transform="rotate(-90 748.7 374)">127.50</text>
<text x="754.0" y="374" font-size="7.0" font-weight="bold" fill="#000" text-anchor="middle" dominant-baseline="central" textLength="18" lengthAdjust="spacingAndGlyphs" transform="rotate(-90 754.0 374)">132.50</text>
<line x1="794.80" y1="605.70" x2="801.20" y2="605.70" stroke="#555" stroke-width="0.9" stroke-linecap="round"/>
<line x1="794.80" y1="608.50" x2="801.20" y2="608.50" stroke="#555" stroke-width="0.9" stroke-linecap="round"/>
<line x1="796.70" y1="603.90" x2="796.70" y2="608.50" stroke="#555" stroke-width="0.9" stroke-linecap="round"/>
<line x1="799.30" y1="603.90" x2="799.30" y2="608.50" stroke="#555" stroke-width="0.9" stroke-linecap="round"/>
<line x1="796.70" y1="609.50" x2="795.30" y2="610.70" stroke="#555" stroke-width="0.9" stroke-linecap="round"/>
<line x1="799.30" y1="609.50" x2="800.70" y2="610.70" stroke="#555" stroke-width="0.9" stroke-linecap="round"/>
<line x1="807.80" y1="605.00" x2="808.80" y2="604.10" stroke="#555" stroke-width="0.9" stroke-linecap="round"/>
<line x1="808.80" y1="604.10" x2="808.80" y2="610.70" stroke="#555" stroke-width="0.9" stroke-linecap="round"/>
<line x1="814.90" y1="604.20" x2="821.30" y2="604.20" stroke="#555" stroke-width="0.9" stroke-linecap="round"/>
<line x1="818.10" y1="604.20" x2="817.40" y2="605.50" stroke="#555" stroke-width="0.9" stroke-linecap="round"/>
<line x1="815.80" y1="605.50" x2="820.40" y2="605.50" stroke="#555" stroke-width="0.9" stroke-linecap="round"/>
<line x1="815.80" y1="605.50" x2="815.80" y2="609.00" stroke="#555" stroke-width="0.9" stroke-linecap="round"/>
<line x1="820.40" y1="605.50" x2="820.40" y2="609.00" stroke="#555" stroke-width="0.9" stroke-linecap="round"/>
<line x1="818.10" y1="606.30" x2="818.10" y2="608.70" stroke="#555" stroke-width="0.9" stroke-linecap="round"/>
<line x1="817.60" y1="609.00" x2="815.60" y2="610.70" stroke="#555" stroke-width="0.9" stroke-linecap="round"/>
<line x1="818.60" y1="609.00" x2="820.80" y2="610.70" stroke="#555" stroke-width="0.9" stroke-linecap="round"/>
<line x1="832.50" y1="603.90" x2="831.90" y2="605.20" stroke="#555" stroke-width="0.9" stroke-linecap="round"/>
<line x1="832.50" y1="604.50" x2="834.50" y2="604.50" stroke="#555" stroke-width="0.9" stroke-linecap="round"/>
<line x1="836.00" y1="603.90" x2="835.40" y2="605.20" stroke="#555" stroke-width="0.9" stroke-linecap="round"/>
<line x1="836.00" y1="604.50" x2="838.10" y2="604.50" stroke="#555" stroke-width="0.9" stroke-linecap="round"/>
<line x1="832.70" y1="606.30" x2="837.50" y2="606.30" stroke="#555" stroke-width="0.9" stroke-linecap="round"/>
<line x1="837.50" y1="606.30" x2="837.50" y2="607.90" stroke="#555" stroke-width="0.9" stroke-linecap="round"/>
<line x1="832.70" y1="607.90" x2="837.50" y2="607.90" stroke="#555" stroke-width="0.9" stroke-linecap="round"/>
<line x1="832.70" y1="607.90" x2="832.70" y2="609.30" stroke="#555" stroke-width="0.9" stroke-linecap="round"/>
<line x1="832.70" y1="609.30" x2="837.70" y2="609.30" stroke="#555" stroke-width="0.9" stroke-linecap="round"/>
<line x1="837.70" y1="609.30" x2="837.30" y2="610.70" stroke="#555" stroke-width="0.9" stroke-linecap="round"/>
<line x1="835.10" y1="605.70" x2="835.10" y2="610.70" stroke="#555" stroke-width="0.9" stroke-linecap="round"/>
<line x1="834.50" y1="609.30" x2="832.30" y2="610.70" stroke="#555" stroke-width="0.9" stroke-linecap="round"/>
<line x1="844.10" y1="605.00" x2="845.10" y2="604.10" stroke="#555" stroke-width="0.9" stroke-linecap="round"/>
<line x1="845.10" y1="604.10" x2="845.10" y2="610.70" stroke="#555" stroke-width="0.9" stroke-linecap="round"/>
<line x1="851.50" y1="604.20" x2="857.90" y2="604.20" stroke="#555" stroke-width="0.9" stroke-linecap="round"/>
<line x1="854.70" y1="604.20" x2="854.00" y2="605.50" stroke="#555" stroke-width="0.9" stroke-linecap="round"/>
<line x1="852.40" y1="605.50" x2="857.00" y2="605.50" stroke="#555" stroke-width="0.9" stroke-linecap="round"/>
<line x1="852.40" y1="605.50" x2="852.40" y2="609.00" stroke="#555" stroke-width="0.9" stroke-linecap="round"/>
<line x1="857.00" y1="605.50" x2="857.00" y2="609.00" stroke="#555" stroke-width="0.9" stroke-linecap="round"/>
<line x1="854.70" y1="606.30" x2="854.70" y2="608.70" stroke="#555" stroke-width="0.9" stroke-linecap="round"/>
<line x1="854.20" y1="609.00" x2="852.20" y2="610.70" stroke="#555" stroke-width="0.9" stroke-linecap="round"/>
<line x1="855.20" y1="609.00" x2="857.40" y2="610.70" stroke="#555" stroke-width="0.9" stroke-linecap="round"/>
<polyline points="210.50,459.00 148.20,415.70 317.70,320.20 379.10,364.30" fill="none" stroke="#000" stroke-width="1.3" stroke-linejoin="round"/>
<polyline points="210.50,459.00 379.10,364.30" fill="none" stroke="#000" stroke-width="1.2" stroke-linejoin="round"/>
<polyline points="212.30,463.00 380.80,368.50" fill="none" stroke="#000" stroke-width="1.2" stroke-linejoin="round"/>
<polyline points="212.30,463.00 227.80,534.00" fill="none" stroke="#000" stroke-width="1.2" stroke-linejoin="round"/>
<polyline points="380.80,368.50 396.20,441.20" fill="none" stroke="#000" stroke-width="1.2" stroke-linejoin="round"/>
<line x1="228.30" y1="535.00" x2="396.40" y2="442.00" stroke="#000" stroke-width="2.0" />
<polyline points="148.20,415.70 162.60,482.50" fill="none" stroke="#000" stroke-width="1.1" stroke-linejoin="round"/>
<path d="M180.40,398.60a1.3,1.3 0 1,0 2.6,0a1.3,1.3 0 1,0 -2.6,0M184.09,396.54a1.3,1.3 0 1,0 2.6,0a1.3,1.3 0 1,0 -2.6,0M187.78,394.47a1.3,1.3 0 1,0 2.6,0a1.3,1.3 0 1,0 -2.6,0M191.47,392.41a1.3,1.3 0 1,0 2.6,0a1.3,1.3 0 1,0 -2.6,0M195.16,390.34a1.3,1.3 0 1,0 2.6,0a1.3,1.3 0 1,0 -2.6,0M198.85,388.28a1.3,1.3 0 1,0 2.6,0a1.3,1.3 0 1,0 -2.6,0M202.54,386.21a1.3,1.3 0 1,0 2.6,0a1.3,1.3 0 1,0 -2.6,0M206.23,384.15a1.3,1.3 0 1,0 2.6,0a1.3,1.3 0 1,0 -2.6,0M209.92,382.08a1.3,1.3 0 1,0 2.6,0a1.3,1.3 0 1,0 -2.6,0M213.61,380.02a1.3,1.3 0 1,0 2.6,0a1.3,1.3 0 1,0 -2.6,0M217.30,377.95a1.3,1.3 0 1,0 2.6,0a1.3,1.3 0 1,0 -2.6,0M220.99,375.89a1.3,1.3 0 1,0 2.6,0a1.3,1.3 0 1,0 -2.6,0M224.68,373.82a1.3,1.3 0 1,0 2.6,0a1.3,1.3 0 1,0 -2.6,0M228.37,371.75a1.3,1.3 0 1,0 2.6,0a1.3,1.3 0 1,0 -2.6,0M232.06,369.69a1.3,1.3 0 1,0 2.6,0a1.3,1.3 0 1,0 -2.6,0M235.75,367.62a1.3,1.3 0 1,0 2.6,0a1.3,1.3 0 1,0 -2.6,0M239.44,365.56a1.3,1.3 0 1,0 2.6,0a1.3,1.3 0 1,0 -2.6,0M243.13,363.50a1.3,1.3 0 1,0 2.6,0a1.3,1.3 0 1,0 -2.6,0M246.82,361.43a1.3,1.3 0 1,0 2.6,0a1.3,1.3 0 1,0 -2.6,0M250.51,359.37a1.3,1.3 0 1,0 2.6,0a1.3,1.3 0 1,0 -2.6,0M254.20,357.30a1.3,1.3 0 1,0 2.6,0a1.3,1.3 0 1,0 -2.6,0M257.89,355.24a1.3,1.3 0 1,0 2.6,0a1.3,1.3 0 1,0 -2.6,0M261.58,353.17a1.3,1.3 0 1,0 2.6,0a1.3,1.3 0 1,0 -2.6,0M265.27,351.11a1.3,1.3 0 1,0 2.6,0a1.3,1.3 0 1,0 -2.6,0M268.96,349.04a1.3,1.3 0 1,0 2.6,0a1.3,1.3 0 1,0 -2.6,0M272.65,346.98a1.3,1.3 0 1,0 2.6,0a1.3,1.3 0 1,0 -2.6,0M276.34,344.91a1.3,1.3 0 1,0 2.6,0a1.3,1.3 0 1,0 -2.6,0M280.03,342.85a1.3,1.3 0 1,0 2.6,0a1.3,1.3 0 1,0 -2.6,0M283.72,340.78a1.3,1.3 0 1,0 2.6,0a1.3,1.3 0 1,0 -2.6,0M287.41,338.72a1.3,1.3 0 1,0 2.6,0a1.3,1.3 0 1,0 -2.6,0M183.00,400.60a1.3,1.3 0 1,0 2.6,0a1.3,1.3 0 1,0 -2.6,0M186.69,398.54a1.3,1.3 0 1,0 2.6,0a1.3,1.3 0 1,0 -2.6,0M190.38,396.47a1.3,1.3 0 1,0 2.6,0a1.3,1.3 0 1,0 -2.6,0M194.07,394.41a1.3,1.3 0 1,0 2.6,0a1.3,1.3 0 1,0 -2.6,0M197.76,392.34a1.3,1.3 0 1,0 2.6,0a1.3,1.3 0 1,0 -2.6,0M201.45,390.28a1.3,1.3 0 1,0 2.6,0a1.3,1.3 0 1,0 -2.6,0M205.14,388.21a1.3,1.3 0 1,0 2.6,0a1.3,1.3 0 1,0 -2.6,0M208.83,386.15a1.3,1.3 0 1,0 2.6,0a1.3,1.3 0 1,0 -2.6,0M212.52,384.08a1.3,1.3 0 1,0 2.6,0a1.3,1.3 0 1,0 -2.6,0M216.21,382.02a1.3,1.3 0 1,0 2.6,0a1.3,1.3 0 1,0 -2.6,0M219.90,379.95a1.3,1.3 0 1,0 2.6,0a1.3,1.3 0 1,0 -2.6,0M223.59,377.89a1.3,1.3 0 1,0 2.6,0a1.3,1.3 0 1,0 -2.6,0M227.28,375.82a1.3,1.3 0 1,0 2.6,0a1.3,1.3 0 1,0 -2.6,0M230.97,373.75a1.3,1.3 0 1,0 2.6,0a1.3,1.3 0 1,0 -2.6,0M234.66,371.69a1.3,1.3 0 1,0 2.6,0a1.3,1.3 0 1,0 -2.6,0M238.35,369.62a1.3,1.3 0 1,0 2.6,0a1.3,1.3 0 1,0 -2.6,0M242.04,367.56a1.3,1.3 0 1,0 2.6,0a1.3,1.3 0 1,0 -2.6,0M245.73,365.50a1.3,1.3 0 1,0 2.6,0a1.3,1.3 0 1,0 -2.6,0M249.42,363.43a1.3,1.3 0 1,0 2.6,0a1.3,1.3 0 1,0 -2.6,0M253.11,361.37a1.3,1.3 0 1,0 2.6,0a1.3,1.3 0 1,0 -2.6,0M256.80,359.30a1.3,1.3 0 1,0 2.6,0a1.3,1.3 0 1,0 -2.6,0M260.49,357.24a1.3,1.3 0 1,0 2.6,0a1.3,1.3 0 1,0 -2.6,0M264.18,355.17a1.3,1.3 0 1,0 2.6,0a1.3,1.3 0 1,0 -2.6,0M267.87,353.11a1.3,1.3 0 1,0 2.6,0a1.3,1.3 0 1,0 -2.6,0M271.56,351.04a1.3,1.3 0 1,0 2.6,0a1.3,1.3 0 1,0 -2.6,0M275.25,348.98a1.3,1.3 0 1,0 2.6,0a1.3,1.3 0 1,0 -2.6,0M278.94,346.91a1.3,1.3 0 1,0 2.6,0a1.3,1.3 0 1,0 -2.6,0M282.63,344.85a1.3,1.3 0 1,0 2.6,0a1.3,1.3 0 1,0 -2.6,0M286.32,342.78a1.3,1.3 0 1,0 2.6,0a1.3,1.3 0 1,0 -2.6,0M290.01,340.72a1.3,1.3 0 1,0 2.6,0a1.3,1.3 0 1,0 -2.6,0M185.60,402.60a1.3,1.3 0 1,0 2.6,0a1.3,1.3 0 1,0 -2.6,0M189.29,400.54a1.3,1.3 0 1,0 2.6,0a1.3,1.3 0 1,0 -2.6,0M192.98,398.47a1.3,1.3 0 1,0 2.6,0a1.3,1.3 0 1,0 -2.6,0M196.67,396.41a1.3,1.3 0 1,0 2.6,0a1.3,1.3 0 1,0 -2.6,0M200.36,394.34a1.3,1.3 0 1,0 2.6,0a1.3,1.3 0 1,0 -2.6,0M204.05,392.28a1.3,1.3 0 1,0 2.6,0a1.3,1.3 0 1,0 -2.6,0M207.74,390.21a1.3,1.3 0 1,0 2.6,0a1.3,1.3 0 1,0 -2.6,0M211.43,388.15a1.3,1.3 0 1,0 2.6,0a1.3,1.3 0 1,0 -2.6,0M215.12,386.08a1.3,1.3 0 1,0 2.6,0a1.3,1.3 0 1,0 -2.6,0M218.81,384.02a1.3,1.3 0 1,0 2.6,0a1.3,1.3 0 1,0 -2.6,0M222.50,381.95a1.3,1.3 0 1,0 2.6,0a1.3,1.3 0 1,0 -2.6,0M226.19,379.89a1.3,1.3 0 1,0 2.6,0a1.3,1.3 0 1,0 -2.6,0M229.88,377.82a1.3,1.3 0 1,0 2.6,0a1.3,1.3 0 1,0 -2.6,0M233.57,375.75a1.3,1.3 0 1,0 2.6,0a1.3,1.3 0 1,0 -2.6,0M237.26,373.69a1.3,1.3 0 1,0 2.6,0a1.3,1.3 0 1,0 -2.6,0M240.95,371.62a1.3,1.3 0 1,0 2.6,0a1.3,1.3 0 1,0 -2.6,0M244.64,369.56a1.3,1.3 0 1,0 2.6,0a1.3,1.3 0 1,0 -2.6,0M248.33,367.50a1.3,1.3 0 1,0 2.6,0a1.3,1.3 0 1,0 -2.6,0M252.02,365.43a1.3,1.3 0 1,0 2.6,0a1.3,1.3 0 1,0 -2.6,0M255.71,363.37a1.3,1.3 0 1,0 2.6,0a1.3,1.3 0 1,0 -2.6,0M259.40,361.30a1.3,1.3 0 1,0 2.6,0a1.3,1.3 0 1,0 -2.6,0M263.09,359.24a1.3,1.3 0 1,0 2.6,0a1.3,1.3 0 1,0 -2.6,0M266.78,357.17a1.3,1.3 0 1,0 2.6,0a1.3,1.3 0 1,0 -2.6,0M270.47,355.11a1.3,1.3 0 1,0 2.6,0a1.3,1.3 0 1,0 -2.6,0M274.16,353.04a1.3,1.3 0 1,0 2.6,0a1.3,1.3 0 1,0 -2.6,0M277.85,350.98a1.3,1.3 0 1,0 2.6,0a1.3,1.3 0 1,0 -2.6,0M281.54,348.91a1.3,1.3 0 1,0 2.6,0a1.3,1.3 0 1,0 -2.6,0M285.23,346.85a1.3,1.3 0 1,0 2.6,0a1.3,1.3 0 1,0 -2.6,0M288.92,344.78a1.3,1.3 0 1,0 2.6,0a1.3,1.3 0 1,0 -2.6,0M292.61,342.72a1.3,1.3 0 1,0 2.6,0a1.3,1.3 0 1,0 -2.6,0" fill="#000"/>
<path d="M232.60,435.80a1.3,1.3 0 1,0 2.6,0a1.3,1.3 0 1,0 -2.6,0M236.29,433.74a1.3,1.3 0 1,0 2.6,0a1.3,1.3 0 1,0 -2.6,0M239.98,431.67a1.3,1.3 0 1,0 2.6,0a1.3,1.3 0 1,0 -2.6,0M243.67,429.61a1.3,1.3 0 1,0 2.6,0a1.3,1.3 0 1,0 -2.6,0M247.36,427.54a1.3,1.3 0 1,0 2.6,0a1.3,1.3 0 1,0 -2.6,0M251.05,425.48a1.3,1.3 0 1,0 2.6,0a1.3,1.3 0 1,0 -2.6,0M254.74,423.41a1.3,1.3 0 1,0 2.6,0a1.3,1.3 0 1,0 -2.6,0M258.43,421.35a1.3,1.3 0 1,0 2.6,0a1.3,1.3 0 1,0 -2.6,0M262.12,419.28a1.3,1.3 0 1,0 2.6,0a1.3,1.3 0 1,0 -2.6,0M265.81,417.22a1.3,1.3 0 1,0 2.6,0a1.3,1.3 0 1,0 -2.6,0M269.50,415.15a1.3,1.3 0 1,0 2.6,0a1.3,1.3 0 1,0 -2.6,0M273.19,413.09a1.3,1.3 0 1,0 2.6,0a1.3,1.3 0 1,0 -2.6,0M276.88,411.02a1.3,1.3 0 1,0 2.6,0a1.3,1.3 0 1,0 -2.6,0M280.57,408.96a1.3,1.3 0 1,0 2.6,0a1.3,1.3 0 1,0 -2.6,0M284.26,406.89a1.3,1.3 0 1,0 2.6,0a1.3,1.3 0 1,0 -2.6,0M287.95,404.82a1.3,1.3 0 1,0 2.6,0a1.3,1.3 0 1,0 -2.6,0M291.64,402.76a1.3,1.3 0 1,0 2.6,0a1.3,1.3 0 1,0 -2.6,0M295.33,400.69a1.3,1.3 0 1,0 2.6,0a1.3,1.3 0 1,0 -2.6,0M299.02,398.63a1.3,1.3 0 1,0 2.6,0a1.3,1.3 0 1,0 -2.6,0M302.71,396.56a1.3,1.3 0 1,0 2.6,0a1.3,1.3 0 1,0 -2.6,0M306.40,394.50a1.3,1.3 0 1,0 2.6,0a1.3,1.3 0 1,0 -2.6,0M310.09,392.44a1.3,1.3 0 1,0 2.6,0a1.3,1.3 0 1,0 -2.6,0M313.78,390.37a1.3,1.3 0 1,0 2.6,0a1.3,1.3 0 1,0 -2.6,0M317.47,388.31a1.3,1.3 0 1,0 2.6,0a1.3,1.3 0 1,0 -2.6,0M321.16,386.24a1.3,1.3 0 1,0 2.6,0a1.3,1.3 0 1,0 -2.6,0M324.85,384.18a1.3,1.3 0 1,0 2.6,0a1.3,1.3 0 1,0 -2.6,0M328.54,382.11a1.3,1.3 0 1,0 2.6,0a1.3,1.3 0 1,0 -2.6,0M332.23,380.05a1.3,1.3 0 1,0 2.6,0a1.3,1.3 0 1,0 -2.6,0M335.92,377.98a1.3,1.3 0 1,0 2.6,0a1.3,1.3 0 1,0 -2.6,0M339.61,375.92a1.3,1.3 0 1,0 2.6,0a1.3,1.3 0 1,0 -2.6,0M235.20,437.80a1.3,1.3 0 1,0 2.6,0a1.3,1.3 0 1,0 -2.6,0M238.89,435.74a1.3,1.3 0 1,0 2.6,0a1.3,1.3 0 1,0 -2.6,0M242.58,433.67a1.3,1.3 0 1,0 2.6,0a1.3,1.3 0 1,0 -2.6,0M246.27,431.61a1.3,1.3 0 1,0 2.6,0a1.3,1.3 0 1,0 -2.6,0M249.96,429.54a1.3,1.3 0 1,0 2.6,0a1.3,1.3 0 1,0 -2.6,0M253.65,427.48a1.3,1.3 0 1,0 2.6,0a1.3,1.3 0 1,0 -2.6,0M257.34,425.41a1.3,1.3 0 1,0 2.6,0a1.3,1.3 0 1,0 -2.6,0M261.03,423.35a1.3,1.3 0 1,0 2.6,0a1.3,1.3 0 1,0 -2.6,0M264.72,421.28a1.3,1.3 0 1,0 2.6,0a1.3,1.3 0 1,0 -2.6,0M268.41,419.22a1.3,1.3 0 1,0 2.6,0a1.3,1.3 0 1,0 -2.6,0M272.10,417.15a1.3,1.3 0 1,0 2.6,0a1.3,1.3 0 1,0 -2.6,0M275.79,415.09a1.3,1.3 0 1,0 2.6,0a1.3,1.3 0 1,0 -2.6,0M279.48,413.02a1.3,1.3 0 1,0 2.6,0a1.3,1.3 0 1,0 -2.6,0M283.17,410.96a1.3,1.3 0 1,0 2.6,0a1.3,1.3 0 1,0 -2.6,0M286.86,408.89a1.3,1.3 0 1,0 2.6,0a1.3,1.3 0 1,0 -2.6,0M290.55,406.82a1.3,1.3 0 1,0 2.6,0a1.3,1.3 0 1,0 -2.6,0M294.24,404.76a1.3,1.3 0 1,0 2.6,0a1.3,1.3 0 1,0 -2.6,0M297.93,402.69a1.3,1.3 0 1,0 2.6,0a1.3,1.3 0 1,0 -2.6,0M301.62,400.63a1.3,1.3 0 1,0 2.6,0a1.3,1.3 0 1,0 -2.6,0M305.31,398.56a1.3,1.3 0 1,0 2.6,0a1.3,1.3 0 1,0 -2.6,0M309.00,396.50a1.3,1.3 0 1,0 2.6,0a1.3,1.3 0 1,0 -2.6,0M312.69,394.44a1.3,1.3 0 1,0 2.6,0a1.3,1.3 0 1,0 -2.6,0M316.38,392.37a1.3,1.3 0 1,0 2.6,0a1.3,1.3 0 1,0 -2.6,0M320.07,390.31a1.3,1.3 0 1,0 2.6,0a1.3,1.3 0 1,0 -2.6,0M323.76,388.24a1.3,1.3 0 1,0 2.6,0a1.3,1.3 0 1,0 -2.6,0M327.45,386.18a1.3,1.3 0 1,0 2.6,0a1.3,1.3 0 1,0 -2.6,0M331.14,384.11a1.3,1.3 0 1,0 2.6,0a1.3,1.3 0 1,0 -2.6,0M334.83,382.05a1.3,1.3 0 1,0 2.6,0a1.3,1.3 0 1,0 -2.6,0M338.52,379.98a1.3,1.3 0 1,0 2.6,0a1.3,1.3 0 1,0 -2.6,0M342.21,377.92a1.3,1.3 0 1,0 2.6,0a1.3,1.3 0 1,0 -2.6,0M237.80,439.80a1.3,1.3 0 1,0 2.6,0a1.3,1.3 0 1,0 -2.6,0M241.49,437.74a1.3,1.3 0 1,0 2.6,0a1.3,1.3 0 1,0 -2.6,0M245.18,435.67a1.3,1.3 0 1,0 2.6,0a1.3,1.3 0 1,0 -2.6,0M248.87,433.61a1.3,1.3 0 1,0 2.6,0a1.3,1.3 0 1,0 -2.6,0M252.56,431.54a1.3,1.3 0 1,0 2.6,0a1.3,1.3 0 1,0 -2.6,0M256.25,429.48a1.3,1.3 0 1,0 2.6,0a1.3,1.3 0 1,0 -2.6,0M259.94,427.41a1.3,1.3 0 1,0 2.6,0a1.3,1.3 0 1,0 -2.6,0M263.63,425.35a1.3,1.3 0 1,0 2.6,0a1.3,1.3 0 1,0 -2.6,0M267.32,423.28a1.3,1.3 0 1,0 2.6,0a1.3,1.3 0 1,0 -2.6,0M271.01,421.22a1.3,1.3 0 1,0 2.6,0a1.3,1.3 0 1,0 -2.6,0M274.70,419.15a1.3,1.3 0 1,0 2.6,0a1.3,1.3 0 1,0 -2.6,0M278.39,417.09a1.3,1.3 0 1,0 2.6,0a1.3,1.3 0 1,0 -2.6,0M282.08,415.02a1.3,1.3 0 1,0 2.6,0a1.3,1.3 0 1,0 -2.6,0M285.77,412.96a1.3,1.3 0 1,0 2.6,0a1.3,1.3 0 1,0 -2.6,0M289.46,410.89a1.3,1.3 0 1,0 2.6,0a1.3,1.3 0 1,0 -2.6,0M293.15,408.82a1.3,1.3 0 1,0 2.6,0a1.3,1.3 0 1,0 -2.6,0M296.84,406.76a1.3,1.3 0 1,0 2.6,0a1.3,1.3 0 1,0 -2.6,0M300.53,404.69a1.3,1.3 0 1,0 2.6,0a1.3,1.3 0 1,0 -2.6,0M304.22,402.63a1.3,1.3 0 1,0 2.6,0a1.3,1.3 0 1,0 -2.6,0M307.91,400.56a1.3,1.3 0 1,0 2.6,0a1.3,1.3 0 1,0 -2.6,0M311.60,398.50a1.3,1.3 0 1,0 2.6,0a1.3,1.3 0 1,0 -2.6,0M315.29,396.44a1.3,1.3 0 1,0 2.6,0a1.3,1.3 0 1,0 -2.6,0M318.98,394.37a1.3,1.3 0 1,0 2.6,0a1.3,1.3 0 1,0 -2.6,0M322.67,392.31a1.3,1.3 0 1,0 2.6,0a1.3,1.3 0 1,0 -2.6,0M326.36,390.24a1.3,1.3 0 1,0 2.6,0a1.3,1.3 0 1,0 -2.6,0M330.05,388.18a1.3,1.3 0 1,0 2.6,0a1.3,1.3 0 1,0 -2.6,0M333.74,386.11a1.3,1.3 0 1,0 2.6,0a1.3,1.3 0 1,0 -2.6,0M337.43,384.05a1.3,1.3 0 1,0 2.6,0a1.3,1.3 0 1,0 -2.6,0M341.12,381.98a1.3,1.3 0 1,0 2.6,0a1.3,1.3 0 1,0 -2.6,0M344.81,379.92a1.3,1.3 0 1,0 2.6,0a1.3,1.3 0 1,0 -2.6,0" fill="#000"/>
<path d="M242.40,446.60a1.3,1.3 0 1,0 2.6,0a1.3,1.3 0 1,0 -2.6,0M246.07,444.55a1.3,1.3 0 1,0 2.6,0a1.3,1.3 0 1,0 -2.6,0M249.74,442.50a1.3,1.3 0 1,0 2.6,0a1.3,1.3 0 1,0 -2.6,0M253.42,440.44a1.3,1.3 0 1,0 2.6,0a1.3,1.3 0 1,0 -2.6,0M257.09,438.39a1.3,1.3 0 1,0 2.6,0a1.3,1.3 0 1,0 -2.6,0M260.76,436.34a1.3,1.3 0 1,0 2.6,0a1.3,1.3 0 1,0 -2.6,0M264.43,434.29a1.3,1.3 0 1,0 2.6,0a1.3,1.3 0 1,0 -2.6,0M268.10,432.24a1.3,1.3 0 1,0 2.6,0a1.3,1.3 0 1,0 -2.6,0M271.78,430.18a1.3,1.3 0 1,0 2.6,0a1.3,1.3 0 1,0 -2.6,0M275.45,428.13a1.3,1.3 0 1,0 2.6,0a1.3,1.3 0 1,0 -2.6,0M279.12,426.08a1.3,1.3 0 1,0 2.6,0a1.3,1.3 0 1,0 -2.6,0M282.79,424.03a1.3,1.3 0 1,0 2.6,0a1.3,1.3 0 1,0 -2.6,0M286.46,421.98a1.3,1.3 0 1,0 2.6,0a1.3,1.3 0 1,0 -2.6,0M290.14,419.92a1.3,1.3 0 1,0 2.6,0a1.3,1.3 0 1,0 -2.6,0M293.81,417.87a1.3,1.3 0 1,0 2.6,0a1.3,1.3 0 1,0 -2.6,0M297.48,415.82a1.3,1.3 0 1,0 2.6,0a1.3,1.3 0 1,0 -2.6,0M301.15,413.77a1.3,1.3 0 1,0 2.6,0a1.3,1.3 0 1,0 -2.6,0M304.82,411.72a1.3,1.3 0 1,0 2.6,0a1.3,1.3 0 1,0 -2.6,0M308.50,409.66a1.3,1.3 0 1,0 2.6,0a1.3,1.3 0 1,0 -2.6,0M312.17,407.61a1.3,1.3 0 1,0 2.6,0a1.3,1.3 0 1,0 -2.6,0M315.84,405.56a1.3,1.3 0 1,0 2.6,0a1.3,1.3 0 1,0 -2.6,0M319.51,403.51a1.3,1.3 0 1,0 2.6,0a1.3,1.3 0 1,0 -2.6,0M323.18,401.46a1.3,1.3 0 1,0 2.6,0a1.3,1.3 0 1,0 -2.6,0M326.86,399.40a1.3,1.3 0 1,0 2.6,0a1.3,1.3 0 1,0 -2.6,0M330.53,397.35a1.3,1.3 0 1,0 2.6,0a1.3,1.3 0 1,0 -2.6,0M334.20,395.30a1.3,1.3 0 1,0 2.6,0a1.3,1.3 0 1,0 -2.6,0M337.87,393.25a1.3,1.3 0 1,0 2.6,0a1.3,1.3 0 1,0 -2.6,0M341.54,391.20a1.3,1.3 0 1,0 2.6,0a1.3,1.3 0 1,0 -2.6,0M345.22,389.14a1.3,1.3 0 1,0 2.6,0a1.3,1.3 0 1,0 -2.6,0M348.89,387.09a1.3,1.3 0 1,0 2.6,0a1.3,1.3 0 1,0 -2.6,0M243.15,450.50a1.3,1.3 0 1,0 2.6,0a1.3,1.3 0 1,0 -2.6,0M246.82,448.45a1.3,1.3 0 1,0 2.6,0a1.3,1.3 0 1,0 -2.6,0M250.49,446.40a1.3,1.3 0 1,0 2.6,0a1.3,1.3 0 1,0 -2.6,0M254.17,444.34a1.3,1.3 0 1,0 2.6,0a1.3,1.3 0 1,0 -2.6,0M257.84,442.29a1.3,1.3 0 1,0 2.6,0a1.3,1.3 0 1,0 -2.6,0M261.51,440.24a1.3,1.3 0 1,0 2.6,0a1.3,1.3 0 1,0 -2.6,0M265.18,438.19a1.3,1.3 0 1,0 2.6,0a1.3,1.3 0 1,0 -2.6,0M268.85,436.14a1.3,1.3 0 1,0 2.6,0a1.3,1.3 0 1,0 -2.6,0M272.53,434.08a1.3,1.3 0 1,0 2.6,0a1.3,1.3 0 1,0 -2.6,0M276.20,432.03a1.3,1.3 0 1,0 2.6,0a1.3,1.3 0 1,0 -2.6,0M279.87,429.98a1.3,1.3 0 1,0 2.6,0a1.3,1.3 0 1,0 -2.6,0M283.54,427.93a1.3,1.3 0 1,0 2.6,0a1.3,1.3 0 1,0 -2.6,0M287.21,425.88a1.3,1.3 0 1,0 2.6,0a1.3,1.3 0 1,0 -2.6,0M290.89,423.82a1.3,1.3 0 1,0 2.6,0a1.3,1.3 0 1,0 -2.6,0M294.56,421.77a1.3,1.3 0 1,0 2.6,0a1.3,1.3 0 1,0 -2.6,0M298.23,419.72a1.3,1.3 0 1,0 2.6,0a1.3,1.3 0 1,0 -2.6,0M301.90,417.67a1.3,1.3 0 1,0 2.6,0a1.3,1.3 0 1,0 -2.6,0M305.57,415.62a1.3,1.3 0 1,0 2.6,0a1.3,1.3 0 1,0 -2.6,0M309.25,413.56a1.3,1.3 0 1,0 2.6,0a1.3,1.3 0 1,0 -2.6,0M312.92,411.51a1.3,1.3 0 1,0 2.6,0a1.3,1.3 0 1,0 -2.6,0M316.59,409.46a1.3,1.3 0 1,0 2.6,0a1.3,1.3 0 1,0 -2.6,0M320.26,407.41a1.3,1.3 0 1,0 2.6,0a1.3,1.3 0 1,0 -2.6,0M323.93,405.36a1.3,1.3 0 1,0 2.6,0a1.3,1.3 0 1,0 -2.6,0M327.61,403.30a1.3,1.3 0 1,0 2.6,0a1.3,1.3 0 1,0 -2.6,0M331.28,401.25a1.3,1.3 0 1,0 2.6,0a1.3,1.3 0 1,0 -2.6,0M334.95,399.20a1.3,1.3 0 1,0 2.6,0a1.3,1.3 0 1,0 -2.6,0M338.62,397.15a1.3,1.3 0 1,0 2.6,0a1.3,1.3 0 1,0 -2.6,0M342.29,395.10a1.3,1.3 0 1,0 2.6,0a1.3,1.3 0 1,0 -2.6,0M345.97,393.04a1.3,1.3 0 1,0 2.6,0a1.3,1.3 0 1,0 -2.6,0M349.64,390.99a1.3,1.3 0 1,0 2.6,0a1.3,1.3 0 1,0 -2.6,0M243.90,454.40a1.3,1.3 0 1,0 2.6,0a1.3,1.3 0 1,0 -2.6,0M247.57,452.35a1.3,1.3 0 1,0 2.6,0a1.3,1.3 0 1,0 -2.6,0M251.24,450.30a1.3,1.3 0 1,0 2.6,0a1.3,1.3 0 1,0 -2.6,0M254.92,448.24a1.3,1.3 0 1,0 2.6,0a1.3,1.3 0 1,0 -2.6,0M258.59,446.19a1.3,1.3 0 1,0 2.6,0a1.3,1.3 0 1,0 -2.6,0M262.26,444.14a1.3,1.3 0 1,0 2.6,0a1.3,1.3 0 1,0 -2.6,0M265.93,442.09a1.3,1.3 0 1,0 2.6,0a1.3,1.3 0 1,0 -2.6,0M269.60,440.04a1.3,1.3 0 1,0 2.6,0a1.3,1.3 0 1,0 -2.6,0M273.28,437.98a1.3,1.3 0 1,0 2.6,0a1.3,1.3 0 1,0 -2.6,0M276.95,435.93a1.3,1.3 0 1,0 2.6,0a1.3,1.3 0 1,0 -2.6,0M280.62,433.88a1.3,1.3 0 1,0 2.6,0a1.3,1.3 0 1,0 -2.6,0M284.29,431.83a1.3,1.3 0 1,0 2.6,0a1.3,1.3 0 1,0 -2.6,0M287.96,429.78a1.3,1.3 0 1,0 2.6,0a1.3,1.3 0 1,0 -2.6,0M291.64,427.72a1.3,1.3 0 1,0 2.6,0a1.3,1.3 0 1,0 -2.6,0M295.31,425.67a1.3,1.3 0 1,0 2.6,0a1.3,1.3 0 1,0 -2.6,0M298.98,423.62a1.3,1.3 0 1,0 2.6,0a1.3,1.3 0 1,0 -2.6,0M302.65,421.57a1.3,1.3 0 1,0 2.6,0a1.3,1.3 0 1,0 -2.6,0M306.32,419.52a1.3,1.3 0 1,0 2.6,0a1.3,1.3 0 1,0 -2.6,0M310.00,417.46a1.3,1.3 0 1,0 2.6,0a1.3,1.3 0 1,0 -2.6,0M313.67,415.41a1.3,1.3 0 1,0 2.6,0a1.3,1.3 0 1,0 -2.6,0M317.34,413.36a1.3,1.3 0 1,0 2.6,0a1.3,1.3 0 1,0 -2.6,0M321.01,411.31a1.3,1.3 0 1,0 2.6,0a1.3,1.3 0 1,0 -2.6,0M324.68,409.26a1.3,1.3 0 1,0 2.6,0a1.3,1.3 0 1,0 -2.6,0M328.36,407.20a1.3,1.3 0 1,0 2.6,0a1.3,1.3 0 1,0 -2.6,0M332.03,405.15a1.3,1.3 0 1,0 2.6,0a1.3,1.3 0 1,0 -2.6,0M335.70,403.10a1.3,1.3 0 1,0 2.6,0a1.3,1.3 0 1,0 -2.6,0M339.37,401.05a1.3,1.3 0 1,0 2.6,0a1.3,1.3 0 1,0 -2.6,0M343.04,399.00a1.3,1.3 0 1,0 2.6,0a1.3,1.3 0 1,0 -2.6,0M346.72,396.94a1.3,1.3 0 1,0 2.6,0a1.3,1.3 0 1,0 -2.6,0M350.39,394.89a1.3,1.3 0 1,0 2.6,0a1.3,1.3 0 1,0 -2.6,0" fill="#000"/>
<path d="M245.40,461.30a1.3,1.3 0 1,0 2.6,0a1.3,1.3 0 1,0 -2.6,0M249.09,459.23a1.3,1.3 0 1,0 2.6,0a1.3,1.3 0 1,0 -2.6,0M252.78,457.16a1.3,1.3 0 1,0 2.6,0a1.3,1.3 0 1,0 -2.6,0M256.47,455.09a1.3,1.3 0 1,0 2.6,0a1.3,1.3 0 1,0 -2.6,0M260.16,453.02a1.3,1.3 0 1,0 2.6,0a1.3,1.3 0 1,0 -2.6,0M263.85,450.95a1.3,1.3 0 1,0 2.6,0a1.3,1.3 0 1,0 -2.6,0M267.54,448.88a1.3,1.3 0 1,0 2.6,0a1.3,1.3 0 1,0 -2.6,0M271.23,446.81a1.3,1.3 0 1,0 2.6,0a1.3,1.3 0 1,0 -2.6,0M274.92,444.74a1.3,1.3 0 1,0 2.6,0a1.3,1.3 0 1,0 -2.6,0M278.61,442.67a1.3,1.3 0 1,0 2.6,0a1.3,1.3 0 1,0 -2.6,0M282.30,440.60a1.3,1.3 0 1,0 2.6,0a1.3,1.3 0 1,0 -2.6,0M285.99,438.53a1.3,1.3 0 1,0 2.6,0a1.3,1.3 0 1,0 -2.6,0M289.68,436.46a1.3,1.3 0 1,0 2.6,0a1.3,1.3 0 1,0 -2.6,0M293.37,434.39a1.3,1.3 0 1,0 2.6,0a1.3,1.3 0 1,0 -2.6,0M297.06,432.32a1.3,1.3 0 1,0 2.6,0a1.3,1.3 0 1,0 -2.6,0M300.75,430.25a1.3,1.3 0 1,0 2.6,0a1.3,1.3 0 1,0 -2.6,0M304.44,428.18a1.3,1.3 0 1,0 2.6,0a1.3,1.3 0 1,0 -2.6,0M308.13,426.11a1.3,1.3 0 1,0 2.6,0a1.3,1.3 0 1,0 -2.6,0M311.82,424.04a1.3,1.3 0 1,0 2.6,0a1.3,1.3 0 1,0 -2.6,0M315.51,421.97a1.3,1.3 0 1,0 2.6,0a1.3,1.3 0 1,0 -2.6,0M319.20,419.90a1.3,1.3 0 1,0 2.6,0a1.3,1.3 0 1,0 -2.6,0M322.89,417.83a1.3,1.3 0 1,0 2.6,0a1.3,1.3 0 1,0 -2.6,0M326.58,415.76a1.3,1.3 0 1,0 2.6,0a1.3,1.3 0 1,0 -2.6,0M330.27,413.69a1.3,1.3 0 1,0 2.6,0a1.3,1.3 0 1,0 -2.6,0M333.96,411.62a1.3,1.3 0 1,0 2.6,0a1.3,1.3 0 1,0 -2.6,0M337.65,409.55a1.3,1.3 0 1,0 2.6,0a1.3,1.3 0 1,0 -2.6,0M341.34,407.48a1.3,1.3 0 1,0 2.6,0a1.3,1.3 0 1,0 -2.6,0M345.03,405.41a1.3,1.3 0 1,0 2.6,0a1.3,1.3 0 1,0 -2.6,0M348.72,403.34a1.3,1.3 0 1,0 2.6,0a1.3,1.3 0 1,0 -2.6,0M352.41,401.27a1.3,1.3 0 1,0 2.6,0a1.3,1.3 0 1,0 -2.6,0M246.25,465.00a1.3,1.3 0 1,0 2.6,0a1.3,1.3 0 1,0 -2.6,0M249.94,462.93a1.3,1.3 0 1,0 2.6,0a1.3,1.3 0 1,0 -2.6,0M253.63,460.86a1.3,1.3 0 1,0 2.6,0a1.3,1.3 0 1,0 -2.6,0M257.32,458.79a1.3,1.3 0 1,0 2.6,0a1.3,1.3 0 1,0 -2.6,0M261.01,456.72a1.3,1.3 0 1,0 2.6,0a1.3,1.3 0 1,0 -2.6,0M264.70,454.65a1.3,1.3 0 1,0 2.6,0a1.3,1.3 0 1,0 -2.6,0M268.39,452.58a1.3,1.3 0 1,0 2.6,0a1.3,1.3 0 1,0 -2.6,0M272.08,450.51a1.3,1.3 0 1,0 2.6,0a1.3,1.3 0 1,0 -2.6,0M275.77,448.44a1.3,1.3 0 1,0 2.6,0a1.3,1.3 0 1,0 -2.6,0M279.46,446.37a1.3,1.3 0 1,0 2.6,0a1.3,1.3 0 1,0 -2.6,0M283.15,444.30a1.3,1.3 0 1,0 2.6,0a1.3,1.3 0 1,0 -2.6,0M286.84,442.23a1.3,1.3 0 1,0 2.6,0a1.3,1.3 0 1,0 -2.6,0M290.53,440.16a1.3,1.3 0 1,0 2.6,0a1.3,1.3 0 1,0 -2.6,0M294.22,438.09a1.3,1.3 0 1,0 2.6,0a1.3,1.3 0 1,0 -2.6,0M297.91,436.02a1.3,1.3 0 1,0 2.6,0a1.3,1.3 0 1,0 -2.6,0M301.60,433.95a1.3,1.3 0 1,0 2.6,0a1.3,1.3 0 1,0 -2.6,0M305.29,431.88a1.3,1.3 0 1,0 2.6,0a1.3,1.3 0 1,0 -2.6,0M308.98,429.81a1.3,1.3 0 1,0 2.6,0a1.3,1.3 0 1,0 -2.6,0M312.67,427.74a1.3,1.3 0 1,0 2.6,0a1.3,1.3 0 1,0 -2.6,0M316.36,425.67a1.3,1.3 0 1,0 2.6,0a1.3,1.3 0 1,0 -2.6,0M320.05,423.60a1.3,1.3 0 1,0 2.6,0a1.3,1.3 0 1,0 -2.6,0M323.74,421.53a1.3,1.3 0 1,0 2.6,0a1.3,1.3 0 1,0 -2.6,0M327.43,419.46a1.3,1.3 0 1,0 2.6,0a1.3,1.3 0 1,0 -2.6,0M331.12,417.39a1.3,1.3 0 1,0 2.6,0a1.3,1.3 0 1,0 -2.6,0M334.81,415.32a1.3,1.3 0 1,0 2.6,0a1.3,1.3 0 1,0 -2.6,0M338.50,413.25a1.3,1.3 0 1,0 2.6,0a1.3,1.3 0 1,0 -2.6,0M342.19,411.18a1.3,1.3 0 1,0 2.6,0a1.3,1.3 0 1,0 -2.6,0M345.88,409.11a1.3,1.3 0 1,0 2.6,0a1.3,1.3 0 1,0 -2.6,0M349.57,407.04a1.3,1.3 0 1,0 2.6,0a1.3,1.3 0 1,0 -2.6,0M353.26,404.97a1.3,1.3 0 1,0 2.6,0a1.3,1.3 0 1,0 -2.6,0M247.10,468.70a1.3,1.3 0 1,0 2.6,0a1.3,1.3 0 1,0 -2.6,0M250.79,466.63a1.3,1.3 0 1,0 2.6,0a1.3,1.3 0 1,0 -2.6,0M254.48,464.56a1.3,1.3 0 1,0 2.6,0a1.3,1.3 0 1,0 -2.6,0M258.17,462.49a1.3,1.3 0 1,0 2.6,0a1.3,1.3 0 1,0 -2.6,0M261.86,460.42a1.3,1.3 0 1,0 2.6,0a1.3,1.3 0 1,0 -2.6,0M265.55,458.35a1.3,1.3 0 1,0 2.6,0a1.3,1.3 0 1,0 -2.6,0M269.24,456.28a1.3,1.3 0 1,0 2.6,0a1.3,1.3 0 1,0 -2.6,0M272.93,454.21a1.3,1.3 0 1,0 2.6,0a1.3,1.3 0 1,0 -2.6,0M276.62,452.14a1.3,1.3 0 1,0 2.6,0a1.3,1.3 0 1,0 -2.6,0M280.31,450.07a1.3,1.3 0 1,0 2.6,0a1.3,1.3 0 1,0 -2.6,0M284.00,448.00a1.3,1.3 0 1,0 2.6,0a1.3,1.3 0 1,0 -2.6,0M287.69,445.93a1.3,1.3 0 1,0 2.6,0a1.3,1.3 0 1,0 -2.6,0M291.38,443.86a1.3,1.3 0 1,0 2.6,0a1.3,1.3 0 1,0 -2.6,0M295.07,441.79a1.3,1.3 0 1,0 2.6,0a1.3,1.3 0 1,0 -2.6,0M298.76,439.72a1.3,1.3 0 1,0 2.6,0a1.3,1.3 0 1,0 -2.6,0M302.45,437.65a1.3,1.3 0 1,0 2.6,0a1.3,1.3 0 1,0 -2.6,0M306.14,435.58a1.3,1.3 0 1,0 2.6,0a1.3,1.3 0 1,0 -2.6,0M309.83,433.51a1.3,1.3 0 1,0 2.6,0a1.3,1.3 0 1,0 -2.6,0M313.52,431.44a1.3,1.3 0 1,0 2.6,0a1.3,1.3 0 1,0 -2.6,0M317.21,429.37a1.3,1.3 0 1,0 2.6,0a1.3,1.3 0 1,0 -2.6,0M320.90,427.30a1.3,1.3 0 1,0 2.6,0a1.3,1.3 0 1,0 -2.6,0M324.59,425.23a1.3,1.3 0 1,0 2.6,0a1.3,1.3 0 1,0 -2.6,0M328.28,423.16a1.3,1.3 0 1,0 2.6,0a1.3,1.3 0 1,0 -2.6,0M331.97,421.09a1.3,1.3 0 1,0 2.6,0a1.3,1.3 0 1,0 -2.6,0M335.66,419.02a1.3,1.3 0 1,0 2.6,0a1.3,1.3 0 1,0 -2.6,0M339.35,416.95a1.3,1.3 0 1,0 2.6,0a1.3,1.3 0 1,0 -2.6,0M343.04,414.88a1.3,1.3 0 1,0 2.6,0a1.3,1.3 0 1,0 -2.6,0M346.73,412.81a1.3,1.3 0 1,0 2.6,0a1.3,1.3 0 1,0 -2.6,0M350.42,410.74a1.3,1.3 0 1,0 2.6,0a1.3,1.3 0 1,0 -2.6,0M354.11,408.67a1.3,1.3 0 1,0 2.6,0a1.3,1.3 0 1,0 -2.6,0" fill="#000"/>
<polyline points="171.90,485.70 212.30,463.60" fill="none" stroke="#000" stroke-width="1.0" stroke-linejoin="round"/>
<polyline points="172.80,487.20 212.60,465.60" fill="none" stroke="#000" stroke-width="1.0" stroke-linejoin="round"/>
<polyline points="175.20,499.80 214.30,478.60" fill="none" stroke="#000" stroke-width="1.1" stroke-linejoin="round"/>
<polyline points="184.20,515.40 218.60,497.00" fill="none" stroke="#000" stroke-width="1.1" stroke-linejoin="round"/>
<polyline points="184.60,518.70 219.50,501.20" fill="none" stroke="#000" stroke-width="1.1" stroke-linejoin="round"/>
<polyline points="184.20,515.40 184.40,523.40 180.80,526.20 182.30,532.80 234.10,569.20" fill="none" stroke="#000" stroke-width="1.1" stroke-linejoin="round"/>
<ellipse cx="192.2" cy="524.3" rx="3.9" ry="2.2" fill="none" stroke="#000" stroke-width="1"/>
<polyline points="374.00,455.00 385.80,462.80" fill="none" stroke="#000" stroke-width="1.0" stroke-linejoin="round"/>
<polygon points="231.60,549.70 400.00,456.10 403.60,475.20 234.10,569.20" fill="none" stroke="#000" stroke-width="1.2" stroke-linejoin="round"/>
<polygon points="108.50,453.50 119.80,452.10 173.60,490.30 173.90,494.50 176.00,498.80 192.20,593.90 190.20,594.50 126.70,549.10 107.10,454.20" fill="none" stroke="#000" stroke-width="1.3" stroke-linejoin="round"/>
<polyline points="109.20,456.30 170.80,497.40" fill="none" stroke="#000" stroke-width="1.2" stroke-linejoin="round"/>
<polyline points="110.80,459.00 172.30,499.30" fill="none" stroke="#000" stroke-width="0.8" stroke-linejoin="round"/>
<polyline points="113.40,460.60 131.40,547.80 187.60,590.50" fill="none" stroke="#000" stroke-width="1.1" stroke-linejoin="round"/>
<polyline points="170.80,498.10 188.20,589.90" fill="none" stroke="#000" stroke-width="1.0" stroke-linejoin="round"/>
<polyline points="173.60,498.80 190.60,592.00" fill="none" stroke="#000" stroke-width="0.8" stroke-linejoin="round"/>
<polyline points="174.84,505.50 179.84,507.00 183.19,522.00 178.19,523.50" fill="none" stroke="#000" stroke-width="1.0" stroke-linejoin="round"/>
<circle cx="178.46" cy="511.50" r="0.80" fill="#888" stroke="#000" stroke-width="1.0"/>
<circle cx="179.57" cy="517.50" r="0.80" fill="#888" stroke="#000" stroke-width="1.0"/>
<polyline points="184.96,560.00 189.96,561.50 193.77,579.00 188.77,580.50" fill="none" stroke="#000" stroke-width="1.0" stroke-linejoin="round"/>
<circle cx="188.73" cy="566.83" r="0.80" fill="#888" stroke="#000" stroke-width="1.0"/>
<circle cx="190.00" cy="573.67" r="0.80" fill="#888" stroke="#000" stroke-width="1.0"/>
<circle cx="144.60" cy="474.00" r="0.90" fill="#888" stroke="#000" stroke-width="1.0"/>
<circle cx="167.20" cy="482.50" r="1.10" fill="#888" stroke="#000" stroke-width="1.0"/>
<polyline points="364.90,310.60 427.20,354.50 448.70,450.70 442.30,452.10 390.60,415.30" fill="none" stroke="#000" stroke-width="1.3" stroke-linejoin="round"/>
<polyline points="364.90,310.60 360.70,314.90 362.10,318.40 417.30,359.40 422.90,357.00" fill="none" stroke="#000" stroke-width="1.1" stroke-linejoin="round"/>
<polyline points="366.00,314.00 425.80,356.40" fill="none" stroke="#000" stroke-width="0.8" stroke-linejoin="round"/>
<polyline points="362.10,318.40 369.20,356.00" fill="none" stroke="#000" stroke-width="1.0" stroke-linejoin="round"/>
<polyline points="424.30,359.40 442.30,451.40" fill="none" stroke="#000" stroke-width="1.0" stroke-linejoin="round"/>
<polyline points="427.60,357.50 446.60,449.80" fill="none" stroke="#000" stroke-width="0.9" stroke-linejoin="round"/>
<polyline points="392.70,423.10 436.60,453.50 442.30,452.10" fill="none" stroke="#000" stroke-width="1.1" stroke-linejoin="round"/>
<polygon points="358.90,327.20 363.60,324.90 367.70,343.00 362.50,345.40" fill="none" stroke="#000" stroke-width="1.3" stroke-linejoin="round"/>
<polyline points="360.00,332.50 365.00,331.00" fill="none" stroke="#000" stroke-width="1.0" stroke-linejoin="round"/>
<polyline points="361.30,338.50 366.30,337.00" fill="none" stroke="#000" stroke-width="1.0" stroke-linejoin="round"/>
<circle cx="362.60" cy="329.40" r="0.80" fill="#888" stroke="#000" stroke-width="1.0"/>
<circle cx="364.20" cy="341.50" r="0.80" fill="#888" stroke="#000" stroke-width="1.0"/>
<polyline points="426.28,369.50 421.28,371.00 424.99,387.00 429.99,388.50" fill="none" stroke="#000" stroke-width="1.0" stroke-linejoin="round"/>
<circle cx="425.27" cy="375.83" r="0.80" fill="#888" stroke="#000" stroke-width="1.0"/>
<circle cx="426.51" cy="382.17" r="0.80" fill="#888" stroke="#000" stroke-width="1.0"/>
<polyline points="436.84,423.50 431.84,425.00 436.05,443.50 441.05,445.00" fill="none" stroke="#000" stroke-width="1.0" stroke-linejoin="round"/>
<circle cx="436.00" cy="430.67" r="0.80" fill="#888" stroke="#000" stroke-width="1.0"/>
<circle cx="437.40" cy="437.83" r="0.80" fill="#888" stroke="#000" stroke-width="1.0"/>
<circle cx="390.40" cy="336.10" r="0.80" fill="#888" stroke="#000" stroke-width="1.0"/>
<circle cx="418.00" cy="353.80" r="0.80" fill="#888" stroke="#000" stroke-width="1.0"/>
<circle cx="408.30" cy="430.90" r="1.20" fill="#888" stroke="#000" stroke-width="1.0"/>
<circle cx="155.60" cy="428.50" r="1.30" fill="#888" stroke="#000" stroke-width="1.0"/>
<circle cx="167.40" cy="482.40" r="1.30" fill="#888" stroke="#000" stroke-width="1.0"/>
<circle cx="219.50" cy="473.80" r="1.30" fill="#888" stroke="#000" stroke-width="1.0"/>
<circle cx="231.10" cy="528.20" r="1.30" fill="#888" stroke="#000" stroke-width="1.0"/>
<circle cx="391.50" cy="438.50" r="1.30" fill="#888" stroke="#000" stroke-width="1.0"/>
<circle cx="379.80" cy="384.20" r="1.30" fill="#888" stroke="#000" stroke-width="1.0"/>
<circle cx="396.50" cy="462.50" r="1.30" fill="#888" stroke="#000" stroke-width="1.0"/>
<circle cx="400.80" cy="473.50" r="0.80" fill="#888" stroke="#000" stroke-width="1.0"/>
<circle cx="236.40" cy="551.60" r="1.30" fill="#888" stroke="#000" stroke-width="1.0"/>
<circle cx="347.00" cy="441.90" r="0.70" fill="#000" stroke="none" stroke-width="0"/>
<ellipse cx="141.3" cy="417.0" rx="2.3" ry="2.1" fill="#333" stroke="#000" stroke-width="1"/>
<circle cx="141.00" cy="416.80" r="0.80" fill="#ccc" stroke="none" stroke-width="0"/>
<line x1="141.50" y1="418.80" x2="142.30" y2="420.40" stroke="#000" stroke-width="1.6" />
<ellipse cx="300.4" cy="327.0" rx="2.3" ry="2.1" fill="#333" stroke="#000" stroke-width="1"/>
<circle cx="300.10" cy="326.80" r="0.80" fill="#ccc" stroke="none" stroke-width="0"/>
<line x1="300.60" y1="328.80" x2="301.40" y2="330.40" stroke="#000" stroke-width="1.6" />
<ellipse cx="152.4" cy="470.6" rx="2.3" ry="2.1" fill="#333" stroke="#000" stroke-width="1"/>
<circle cx="152.10" cy="470.40" r="0.80" fill="#ccc" stroke="none" stroke-width="0"/>
<line x1="152.60" y1="472.40" x2="153.40" y2="474.00" stroke="#000" stroke-width="1.6" />
<ellipse cx="231.9" cy="481.6" rx="2.3" ry="2.1" fill="#333" stroke="#000" stroke-width="1"/>
<circle cx="231.60" cy="481.40" r="0.80" fill="#ccc" stroke="none" stroke-width="0"/>
<line x1="232.10" y1="483.40" x2="232.90" y2="485.00" stroke="#000" stroke-width="1.6" />
<ellipse cx="394.5" cy="394.0" rx="2.3" ry="2.1" fill="#333" stroke="#000" stroke-width="1"/>
<circle cx="394.20" cy="393.80" r="0.80" fill="#ccc" stroke="none" stroke-width="0"/>
<line x1="394.70" y1="395.80" x2="395.50" y2="397.40" stroke="#000" stroke-width="1.6" />
<ellipse cx="406.4" cy="448.5" rx="2.3" ry="2.1" fill="#333" stroke="#000" stroke-width="1"/>
<circle cx="406.10" cy="448.30" r="0.80" fill="#ccc" stroke="none" stroke-width="0"/>
<line x1="406.60" y1="450.30" x2="407.40" y2="451.90" stroke="#000" stroke-width="1.6" />
<ellipse cx="411.4" cy="472.6" rx="2.3" ry="2.1" fill="#333" stroke="#000" stroke-width="1"/>
<circle cx="411.10" cy="472.40" r="0.80" fill="#ccc" stroke="none" stroke-width="0"/>
<line x1="411.60" y1="474.40" x2="412.40" y2="476.00" stroke="#000" stroke-width="1.6" />
<ellipse cx="245.4" cy="537.2" rx="2.3" ry="2.1" fill="#333" stroke="#000" stroke-width="1"/>
<circle cx="245.10" cy="537.00" r="0.80" fill="#ccc" stroke="none" stroke-width="0"/>
<line x1="245.60" y1="539.00" x2="246.40" y2="540.60" stroke="#000" stroke-width="1.6" />
<ellipse cx="251.1" cy="561.8" rx="2.3" ry="2.1" fill="#333" stroke="#000" stroke-width="1"/>
<circle cx="250.80" cy="561.60" r="0.80" fill="#ccc" stroke="none" stroke-width="0"/>
<line x1="251.30" y1="563.60" x2="252.10" y2="565.20" stroke="#000" stroke-width="1.6" />
<ellipse cx="387.3" cy="493.6" rx="4.4" ry="4.0" fill="#444" stroke="#000" stroke-width="1.2"/>
<ellipse cx="387.3" cy="492.8" rx="2.8" ry="1.8" fill="#bbb" stroke="#000" stroke-width="0.7"/>
<ellipse cx="242.9" cy="574.2" rx="4.4" ry="4.0" fill="#444" stroke="#000" stroke-width="1.2"/>
<ellipse cx="242.9" cy="573.4000000000001" rx="2.8" ry="1.8" fill="#bbb" stroke="#000" stroke-width="0.7"/>
</svg></body></html>
